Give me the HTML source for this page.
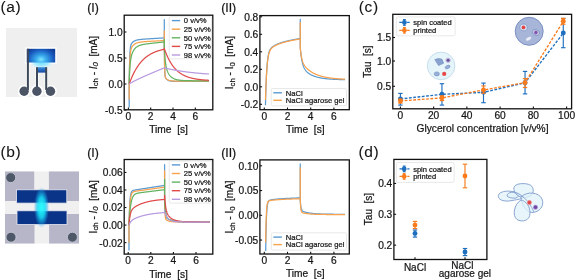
<!DOCTYPE html>
<html><head><meta charset="utf-8"><style>
html,body{margin:0;padding:0;background:#fff;}
svg{display:block;font-family:"Liberation Sans", sans-serif;will-change:transform;}
text{fill:#151515;stroke:#151515;stroke-width:0.22px;}
</style></head><body>
<svg width="575" height="280" viewBox="0 0 575 280">
<rect width="575" height="280" fill="#fff"/>
<text x="0.5" y="11.8" font-size="15.5" text-anchor="start" style="stroke-width:0.1px;letter-spacing:0.6px">(a)</text>
<text x="0.5" y="157.3" font-size="15.5" text-anchor="start" style="stroke-width:0.1px;letter-spacing:0.6px">(b)</text>
<rect x="6" y="28" width="71" height="69" fill="#efefef"/>
<defs>
    <radialGradient id="ga" cx="0.5" cy="0.78" r="0.62" gradientTransform="translate(0.5 0.78) scale(1 1.6) translate(-0.5 -0.78)">
      <stop offset="0" stop-color="#7fe6ff"/>
      <stop offset="0.3" stop-color="#38a8ec"/>
      <stop offset="0.7" stop-color="#1a5cc0"/>
      <stop offset="1" stop-color="#0e3a92"/>
    </radialGradient>
    <linearGradient id="gb" x1="0" y1="0" x2="0" y2="1">
      <stop offset="0" stop-color="#3a90e0"/>
      <stop offset="1" stop-color="#1746a0"/>
    </linearGradient>
    <radialGradient id="glow" cx="0.5" cy="0.5" r="0.5">
      <stop offset="0" stop-color="#70dcff"/>
      <stop offset="0.55" stop-color="#a8ecff"/>
      <stop offset="1" stop-color="#e0f6fc" stop-opacity="0"/>
    </radialGradient>
    </defs>
<g stroke="#fff" stroke-width="3" fill="#fff">
<rect x="26.8" y="48.8" width="28.4" height="13.7"/>
<line x1="27.9" y1="49" x2="27.9" y2="88"/><line x1="37" y1="67" x2="37" y2="88"/><line x1="46.2" y1="67" x2="46.2" y2="88"/>
<circle cx="24.1" cy="91.3" r="4.9"/><circle cx="36.9" cy="91.3" r="4.9"/><circle cx="50.5" cy="91.3" r="4.9"/>
</g>
<ellipse cx="41.5" cy="62.5" rx="12.5" ry="6.5" fill="url(#glow)"/>
<rect x="26.8" y="48.8" width="28.4" height="13.7" fill="url(#ga)"/>
<rect x="36.6" y="67.2" width="10" height="5.4" fill="url(#gb)"/>
<g stroke="#3d4858" stroke-width="2">
<line x1="27.9" y1="48.8" x2="27.9" y2="90"/><line x1="37" y1="67.2" x2="37" y2="90"/><line x1="46.2" y1="67.2" x2="46.2" y2="90"/>
</g>
<g fill="#4b5566"><circle cx="24.1" cy="91.3" r="4.7"/><circle cx="36.9" cy="91.3" r="4.7"/><circle cx="50.5" cy="91.3" r="4.7"/></g>
<rect x="5" y="171.5" width="74" height="72" fill="#f0f0f0"/>
<rect x="5" y="171.5" width="29.2" height="29.5" fill="#b6b6c8"/>
<rect x="48.9" y="171.5" width="30.1" height="29.5" fill="#b6b6c8"/>
<rect x="5" y="214" width="29.5" height="29.5" fill="#b6b6c8"/>
<rect x="49.1" y="214" width="29.9" height="29.5" fill="#b6b6c8"/>
<rect x="16.5" y="189.8" width="50.3" height="13.3" fill="#0a3488" stroke="#e8e8f0" stroke-width="0.8"/>
<rect x="17" y="210.8" width="50" height="13.7" fill="#0a3488" stroke="#e8e8f0" stroke-width="0.8"/>
<defs><radialGradient id="gc" cx="0.5" cy="0.5" r="0.5">
      <stop offset="0" stop-color="#28ffff" stop-opacity="1"/>
      <stop offset="0.5" stop-color="#18e0f8" stop-opacity="0.85"/>
      <stop offset="0.8" stop-color="#18b0ec" stop-opacity="0.4"/>
      <stop offset="1" stop-color="#1890e0" stop-opacity="0"/>
    </radialGradient></defs>
<ellipse cx="41.5" cy="207.5" rx="7.6" ry="20.5" fill="url(#gc)"/>
<circle cx="10.7" cy="177.6" r="5" fill="#4e5868" stroke="#d0d0dc" stroke-width="0.8"/>
<circle cx="11" cy="237.2" r="5" fill="#4e5868" stroke="#d0d0dc" stroke-width="0.8"/>
<circle cx="72.4" cy="237.2" r="5" fill="#4e5868" stroke="#d0d0dc" stroke-width="0.8"/>
<text x="87.2" y="12.2" font-size="12.3" text-anchor="start" >(I)</text>
<clipPath id="cI1"><rect x="124.2" y="15.2" width="88.6" height="94.6"/></clipPath>
<g clip-path="url(#cI1)" fill="none" stroke-width="1.25" stroke-linejoin="round">
<path d="M129.18,107.4 L129.18,84 L129.47,66.01 L129.77,56.35 L130.06,51.05 L130.35,48.03 L130.64,46.22 L130.94,45.06 L131.23,44.27 L131.52,43.68 L131.81,43.21 L132.11,42.82 L132.4,42.49 L132.69,42.2 L132.99,41.93 L133.28,41.7 L133.57,41.49 L133.86,41.3 L134.16,41.12 L134.45,40.97 L134.74,40.82 L135.03,40.69 L135.33,40.57 L135.62,40.46 L135.91,40.36 L136.21,40.27 L136.5,40.18 L136.79,40.1 L137.08,40.03 L137.38,39.96 L137.67,39.9 L137.96,39.84 L138.25,39.79 L138.55,39.74 L138.84,39.69 L139.13,39.65 L139.42,39.61 L139.72,39.57 L140.01,39.53 L140.3,39.5 L140.6,39.46 L140.89,39.43 L141.18,39.4 L141.47,39.37 L141.77,39.34 L142.06,39.32 L142.35,39.29 L142.64,39.26 L142.94,39.24 L143.23,39.22 L143.52,39.19 L143.81,39.17 L144.11,39.15 L144.4,39.13 L144.69,39.1 L144.99,39.08 L145.28,39.06 L145.57,39.04 L145.86,39.02 L146.16,39 L146.45,38.98 L146.74,38.96 L147.03,38.94 L147.33,38.93 L147.62,38.91 L147.91,38.89 L148.21,38.87 L148.5,38.85 L148.79,38.83 L149.08,38.81 L149.38,38.79 L149.67,38.78 L149.96,38.76 L150.25,38.74 L150.55,38.72 L150.84,38.7 L151.13,38.69 L151.42,38.67 L151.72,38.65 L152.01,38.63 L152.3,38.61 L152.6,38.6 L152.89,38.58 L153.18,38.56 L153.47,38.54 L153.77,38.52 L154.06,38.51 L154.35,38.49 L154.64,38.47 L154.94,38.45 L155.23,38.43 L155.52,38.42 L155.82,38.4 L156.11,38.38 L156.4,38.36 L156.69,38.35 L156.99,38.33 L157.28,38.31 L157.57,38.29 L157.86,38.27 L158.16,38.26 L158.45,38.24 L158.74,38.22 L159.03,38.2 L159.33,38.19 L159.62,38.17 L159.91,38.15 L160.21,38.13 L160.5,38.11 L160.79,38.1 L161.08,38.08 L161.38,38.06 L161.67,38.04 L161.96,38.03 L162.25,38.01 L162.55,37.99 L162.84,37.97 L163.13,37.95 L163.42,37.94 L163.72,37.92 L164.01,37.9 L164.3,37.88 L164.3,19.52 L164.3,42.4 L164.58,66.54 L164.86,73.87 L165.14,76.35 L165.42,77.4 L165.7,78 L165.98,78.44 L166.26,78.8 L166.54,79.11 L166.82,79.38 L167.1,79.62 L167.38,79.83 L167.66,80.01 L167.94,80.18 L168.22,80.32 L168.49,80.45 L168.77,80.56 L169.05,80.66 L169.33,80.75 L169.61,80.82 L169.89,80.89 L170.17,80.95 L170.45,81 L170.73,81.05 L171.01,81.09 L171.29,81.13 L171.57,81.16 L171.85,81.19 L172.13,81.21 L172.41,81.24 L172.69,81.25 L172.97,81.27 L173.25,81.29 L173.52,81.3 L173.8,81.31 L174.08,81.32 L174.36,81.33 L174.64,81.34 L174.92,81.35 L175.2,81.35 L175.48,81.36 L175.76,81.36 L176.04,81.37 L176.32,81.37 L176.6,81.37 L176.88,81.38 L177.16,81.38 L177.44,81.38 L177.72,81.38 L178,81.39 L178.28,81.39 L178.55,81.39 L178.83,81.39 L179.11,81.39 L179.39,81.39 L179.67,81.39 L179.95,81.39 L180.23,81.4 L180.51,81.4 L180.79,81.4 L181.07,81.4 L181.35,81.4 L181.63,81.4 L181.91,81.4 L182.19,81.4 L182.47,81.4 L182.75,81.4 L183.03,81.4 L183.31,81.4 L183.58,81.4 L183.86,81.4 L184.14,81.4 L184.42,81.4 L184.7,81.4 L184.98,81.4 L185.26,81.4 L185.54,81.4 L185.82,81.4 L186.1,81.4 L186.38,81.4 L186.66,81.4 L186.94,81.4 L187.22,81.4 L187.5,81.4 L187.78,81.4 L188.06,81.4 L188.34,81.4 L188.61,81.4 L188.89,81.4 L189.17,81.4 L189.45,81.4 L189.73,81.4 L190.01,81.4 L190.29,81.4 L190.57,81.4 L190.85,81.4 L191.13,81.4 L191.41,81.4 L191.69,81.4 L191.97,81.4 L192.25,81.4 L192.53,81.4 L192.81,81.4 L193.09,81.4 L193.37,81.4 L193.64,81.4 L193.92,81.4 L194.2,81.4 L194.48,81.4 L194.76,81.4 L195.04,81.4 L195.32,81.4 L195.6,81.4 L195.88,81.4 L196.16,81.4 L196.44,81.4 L196.72,81.4 L197,81.4 L197.28,81.4 L197.56,81.4 L197.84,81.4 L198.12,81.4 L198.4,81.4 L198.67,81.4 L198.95,81.4 L199.23,81.4 L199.51,81.4 L199.79,81.4 L200.07,81.4 L200.35,81.4 L200.63,81.4 L200.91,81.4 L201.19,81.4 L201.47,81.4 L201.75,81.4 L202.03,81.4 L202.31,81.4 L202.59,81.4 L202.87,81.4 L203.15,81.4 L203.43,81.4 L203.71,81.4 L203.98,81.4 L204.26,81.4 L204.54,81.4 L204.82,81.4 L205.1,81.4 L205.38,81.4 L205.66,81.4 L205.94,81.4 L206.22,81.4 L206.5,81.4 L206.78,81.4 L207.06,81.4 L207.34,81.4 L207.62,81.4 L207.9,81.4 L208.18,81.4 L208.46,81.4 L208.74,81.4 L209.01,81.4" stroke="#5b9ad2"/>
<path d="M129.18,99.6 L129.18,84 L129.47,70.3 L129.77,61.91 L130.06,56.68 L130.35,53.35 L130.64,51.17 L130.94,49.67 L131.23,48.6 L131.52,47.79 L131.81,47.16 L132.11,46.64 L132.4,46.2 L132.69,45.82 L132.99,45.49 L133.28,45.18 L133.57,44.91 L133.86,44.66 L134.16,44.43 L134.45,44.22 L134.74,44.02 L135.03,43.85 L135.33,43.68 L135.62,43.53 L135.91,43.39 L136.21,43.26 L136.5,43.14 L136.79,43.03 L137.08,42.92 L137.38,42.83 L137.67,42.74 L137.96,42.66 L138.25,42.58 L138.55,42.51 L138.84,42.44 L139.13,42.38 L139.42,42.32 L139.72,42.26 L140.01,42.21 L140.3,42.16 L140.6,42.12 L140.89,42.07 L141.18,42.03 L141.47,41.99 L141.77,41.95 L142.06,41.92 L142.35,41.89 L142.64,41.85 L142.94,41.82 L143.23,41.79 L143.52,41.77 L143.81,41.74 L144.11,41.71 L144.4,41.69 L144.69,41.66 L144.99,41.64 L145.28,41.62 L145.57,41.6 L145.86,41.58 L146.16,41.55 L146.45,41.53 L146.74,41.51 L147.03,41.49 L147.33,41.47 L147.62,41.46 L147.91,41.44 L148.21,41.42 L148.5,41.4 L148.79,41.38 L149.08,41.37 L149.38,41.35 L149.67,41.33 L149.96,41.31 L150.25,41.3 L150.55,41.28 L150.84,41.26 L151.13,41.25 L151.42,41.23 L151.72,41.22 L152.01,41.2 L152.3,41.18 L152.6,41.17 L152.89,41.15 L153.18,41.14 L153.47,41.12 L153.77,41.11 L154.06,41.09 L154.35,41.07 L154.64,41.06 L154.94,41.04 L155.23,41.03 L155.52,41.01 L155.82,41 L156.11,40.98 L156.4,40.97 L156.69,40.95 L156.99,40.94 L157.28,40.92 L157.57,40.91 L157.86,40.89 L158.16,40.88 L158.45,40.86 L158.74,40.84 L159.03,40.83 L159.33,40.81 L159.62,40.8 L159.91,40.78 L160.21,40.77 L160.5,40.75 L160.79,40.74 L161.08,40.72 L161.38,40.71 L161.67,40.69 L161.96,40.68 L162.25,40.66 L162.55,40.65 L162.84,40.63 L163.13,40.62 L163.42,40.6 L163.72,40.59 L164.01,40.57 L164.3,40.56 L164.3,30.96 L164.3,44.69 L164.58,65 L164.86,72.75 L165.14,75.85 L165.42,77.23 L165.7,77.94 L165.98,78.39 L166.26,78.72 L166.54,78.99 L166.82,79.22 L167.1,79.42 L167.38,79.6 L167.66,79.76 L167.94,79.91 L168.22,80.03 L168.49,80.15 L168.77,80.25 L169.05,80.34 L169.33,80.42 L169.61,80.49 L169.89,80.56 L170.17,80.61 L170.45,80.66 L170.73,80.71 L171.01,80.75 L171.29,80.79 L171.57,80.82 L171.85,80.85 L172.13,80.87 L172.41,80.9 L172.69,80.92 L172.97,80.94 L173.25,80.95 L173.52,80.97 L173.8,80.98 L174.08,80.99 L174.36,81 L174.64,81.01 L174.92,81.02 L175.2,81.03 L175.48,81.03 L175.76,81.04 L176.04,81.04 L176.32,81.05 L176.6,81.05 L176.88,81.06 L177.16,81.06 L177.44,81.06 L177.72,81.07 L178,81.07 L178.28,81.07 L178.55,81.07 L178.83,81.07 L179.11,81.08 L179.39,81.08 L179.67,81.08 L179.95,81.08 L180.23,81.08 L180.51,81.08 L180.79,81.08 L181.07,81.08 L181.35,81.08 L181.63,81.08 L181.91,81.08 L182.19,81.08 L182.47,81.08 L182.75,81.09 L183.03,81.09 L183.31,81.09 L183.58,81.09 L183.86,81.09 L184.14,81.09 L184.42,81.09 L184.7,81.09 L184.98,81.09 L185.26,81.09 L185.54,81.09 L185.82,81.09 L186.1,81.09 L186.38,81.09 L186.66,81.09 L186.94,81.09 L187.22,81.09 L187.5,81.09 L187.78,81.09 L188.06,81.09 L188.34,81.09 L188.61,81.09 L188.89,81.09 L189.17,81.09 L189.45,81.09 L189.73,81.09 L190.01,81.09 L190.29,81.09 L190.57,81.09 L190.85,81.09 L191.13,81.09 L191.41,81.09 L191.69,81.09 L191.97,81.09 L192.25,81.09 L192.53,81.09 L192.81,81.09 L193.09,81.09 L193.37,81.09 L193.64,81.09 L193.92,81.09 L194.2,81.09 L194.48,81.09 L194.76,81.09 L195.04,81.09 L195.32,81.09 L195.6,81.09 L195.88,81.09 L196.16,81.09 L196.44,81.09 L196.72,81.09 L197,81.09 L197.28,81.09 L197.56,81.09 L197.84,81.09 L198.12,81.09 L198.4,81.09 L198.67,81.09 L198.95,81.09 L199.23,81.09 L199.51,81.09 L199.79,81.09 L200.07,81.09 L200.35,81.09 L200.63,81.09 L200.91,81.09 L201.19,81.09 L201.47,81.09 L201.75,81.09 L202.03,81.09 L202.31,81.09 L202.59,81.09 L202.87,81.09 L203.15,81.09 L203.43,81.09 L203.71,81.09 L203.98,81.09 L204.26,81.09 L204.54,81.09 L204.82,81.09 L205.1,81.09 L205.38,81.09 L205.66,81.09 L205.94,81.09 L206.22,81.09 L206.5,81.09 L206.78,81.09 L207.06,81.09 L207.34,81.09 L207.62,81.09 L207.9,81.09 L208.18,81.09 L208.46,81.09 L208.74,81.09 L209.01,81.09" stroke="#f9a24c"/>
<path d="M129.18,84 L129.47,75.6 L129.77,69.73 L130.06,65.54 L130.35,62.45 L130.64,60.11 L130.94,58.29 L131.23,56.82 L131.52,55.6 L131.81,54.57 L132.11,53.67 L132.4,52.89 L132.69,52.19 L132.99,51.56 L133.28,50.99 L133.57,50.47 L133.86,50 L134.16,49.56 L134.45,49.16 L134.74,48.79 L135.03,48.45 L135.33,48.14 L135.62,47.85 L135.91,47.58 L136.21,47.33 L136.5,47.1 L136.79,46.89 L137.08,46.69 L137.38,46.51 L137.67,46.34 L137.96,46.18 L138.25,46.03 L138.55,45.89 L138.84,45.76 L139.13,45.63 L139.42,45.52 L139.72,45.41 L140.01,45.31 L140.3,45.21 L140.6,45.12 L140.89,45.04 L141.18,44.96 L141.47,44.88 L141.77,44.81 L142.06,44.74 L142.35,44.67 L142.64,44.61 L142.94,44.55 L143.23,44.49 L143.52,44.43 L143.81,44.38 L144.11,44.33 L144.4,44.27 L144.69,44.23 L144.99,44.18 L145.28,44.13 L145.57,44.09 L145.86,44.04 L146.16,44 L146.45,43.96 L146.74,43.92 L147.03,43.88 L147.33,43.84 L147.62,43.8 L147.91,43.76 L148.21,43.72 L148.5,43.69 L148.79,43.65 L149.08,43.61 L149.38,43.58 L149.67,43.54 L149.96,43.51 L150.25,43.47 L150.55,43.44 L150.84,43.4 L151.13,43.37 L151.42,43.34 L151.72,43.3 L152.01,43.27 L152.3,43.24 L152.6,43.2 L152.89,43.17 L153.18,43.14 L153.47,43.1 L153.77,43.07 L154.06,43.04 L154.35,43.01 L154.64,42.98 L154.94,42.94 L155.23,42.91 L155.52,42.88 L155.82,42.85 L156.11,42.81 L156.4,42.78 L156.69,42.75 L156.99,42.72 L157.28,42.69 L157.57,42.66 L157.86,42.62 L158.16,42.59 L158.45,42.56 L158.74,42.53 L159.03,42.5 L159.33,42.47 L159.62,42.43 L159.91,42.4 L160.21,42.37 L160.5,42.34 L160.79,42.31 L161.08,42.28 L161.38,42.24 L161.67,42.21 L161.96,42.18 L162.25,42.15 L162.55,42.12 L162.84,42.09 L163.13,42.06 L163.42,42.02 L163.72,41.99 L164.01,41.96 L164.3,41.93 L164.3,39.28 L164.3,46.98 L164.58,52.28 L164.86,56.38 L165.14,59.6 L165.42,62.16 L165.7,64.21 L165.98,65.9 L166.26,67.3 L166.54,68.48 L166.82,69.49 L167.1,70.37 L167.38,71.14 L167.66,71.83 L167.94,72.45 L168.22,73.01 L168.49,73.52 L168.77,73.99 L169.05,74.43 L169.33,74.83 L169.61,75.2 L169.89,75.55 L170.17,75.87 L170.45,76.17 L170.73,76.46 L171.01,76.72 L171.29,76.97 L171.57,77.2 L171.85,77.42 L172.13,77.62 L172.41,77.82 L172.69,78 L172.97,78.17 L173.25,78.32 L173.52,78.47 L173.8,78.61 L174.08,78.74 L174.36,78.87 L174.64,78.98 L174.92,79.09 L175.2,79.2 L175.48,79.29 L175.76,79.38 L176.04,79.47 L176.32,79.55 L176.6,79.62 L176.88,79.69 L177.16,79.76 L177.44,79.82 L177.72,79.88 L178,79.93 L178.28,79.98 L178.55,80.03 L178.83,80.08 L179.11,80.12 L179.39,80.16 L179.67,80.2 L179.95,80.23 L180.23,80.26 L180.51,80.3 L180.79,80.32 L181.07,80.35 L181.35,80.38 L181.63,80.4 L181.91,80.42 L182.19,80.45 L182.47,80.47 L182.75,80.48 L183.03,80.5 L183.31,80.52 L183.58,80.53 L183.86,80.55 L184.14,80.56 L184.42,80.58 L184.7,80.59 L184.98,80.6 L185.26,80.61 L185.54,80.62 L185.82,80.63 L186.1,80.64 L186.38,80.65 L186.66,80.65 L186.94,80.66 L187.22,80.67 L187.5,80.68 L187.78,80.68 L188.06,80.69 L188.34,80.69 L188.61,80.7 L188.89,80.7 L189.17,80.71 L189.45,80.71 L189.73,80.72 L190.01,80.72 L190.29,80.72 L190.57,80.73 L190.85,80.73 L191.13,80.73 L191.41,80.73 L191.69,80.74 L191.97,80.74 L192.25,80.74 L192.53,80.74 L192.81,80.75 L193.09,80.75 L193.37,80.75 L193.64,80.75 L193.92,80.75 L194.2,80.75 L194.48,80.76 L194.76,80.76 L195.04,80.76 L195.32,80.76 L195.6,80.76 L195.88,80.76 L196.16,80.76 L196.44,80.76 L196.72,80.76 L197,80.76 L197.28,80.76 L197.56,80.77 L197.84,80.77 L198.12,80.77 L198.4,80.77 L198.67,80.77 L198.95,80.77 L199.23,80.77 L199.51,80.77 L199.79,80.77 L200.07,80.77 L200.35,80.77 L200.63,80.77 L200.91,80.77 L201.19,80.77 L201.47,80.77 L201.75,80.77 L202.03,80.77 L202.31,80.77 L202.59,80.77 L202.87,80.77 L203.15,80.77 L203.43,80.77 L203.71,80.77 L203.98,80.77 L204.26,80.77 L204.54,80.77 L204.82,80.77 L205.1,80.77 L205.38,80.77 L205.66,80.77 L205.94,80.77 L206.22,80.77 L206.5,80.77 L206.78,80.77 L207.06,80.77 L207.34,80.77 L207.62,80.77 L207.9,80.77 L208.18,80.78 L208.46,80.78 L208.74,80.78 L209.01,80.78" stroke="#62b462"/>
<path d="M129.18,84 L129.47,83.19 L129.77,82.4 L130.06,81.62 L130.35,80.86 L130.64,80.12 L130.94,79.39 L131.23,78.68 L131.52,77.99 L131.81,77.31 L132.11,76.64 L132.4,75.99 L132.69,75.36 L132.99,74.73 L133.28,74.12 L133.57,73.53 L133.86,72.94 L134.16,72.37 L134.45,71.81 L134.74,71.27 L135.03,70.73 L135.33,70.21 L135.62,69.7 L135.91,69.2 L136.21,68.71 L136.5,68.23 L136.79,67.76 L137.08,67.3 L137.38,66.85 L137.67,66.41 L137.96,65.98 L138.25,65.56 L138.55,65.15 L138.84,64.75 L139.13,64.36 L139.42,63.97 L139.72,63.59 L140.01,63.23 L140.3,62.87 L140.6,62.51 L140.89,62.17 L141.18,61.83 L141.47,61.5 L141.77,61.18 L142.06,60.86 L142.35,60.55 L142.64,60.25 L142.94,59.95 L143.23,59.66 L143.52,59.38 L143.81,59.1 L144.11,58.83 L144.4,58.56 L144.69,58.3 L144.99,58.05 L145.28,57.8 L145.57,57.56 L145.86,57.32 L146.16,57.09 L146.45,56.86 L146.74,56.64 L147.03,56.42 L147.33,56.21 L147.62,56 L147.91,55.79 L148.21,55.59 L148.5,55.4 L148.79,55.21 L149.08,55.02 L149.38,54.84 L149.67,54.66 L149.96,54.48 L150.25,54.31 L150.55,54.14 L150.84,53.98 L151.13,53.82 L151.42,53.66 L151.72,53.51 L152.01,53.36 L152.3,53.21 L152.6,53.07 L152.89,52.93 L153.18,52.79 L153.47,52.65 L153.77,52.52 L154.06,52.39 L154.35,52.27 L154.64,52.14 L154.94,52.02 L155.23,51.9 L155.52,51.79 L155.82,51.67 L156.11,51.56 L156.4,51.46 L156.69,51.35 L156.99,51.25 L157.28,51.14 L157.57,51.05 L157.86,50.95 L158.16,50.85 L158.45,50.76 L158.74,50.67 L159.03,50.58 L159.33,50.49 L159.62,50.41 L159.91,50.33 L160.21,50.24 L160.5,50.16 L160.79,50.09 L161.08,50.01 L161.38,49.94 L161.67,49.86 L161.96,49.79 L162.25,49.72 L162.55,49.65 L162.84,49.59 L163.13,49.52 L163.42,49.46 L163.72,49.39 L164.01,49.33 L164.3,49.27 L164.3,48.12 L164.3,48.64 L164.58,49.44 L164.86,50.22 L165.14,50.98 L165.42,51.72 L165.7,52.44 L165.98,53.14 L166.26,53.83 L166.54,54.5 L166.82,55.15 L167.1,55.79 L167.38,56.41 L167.66,57.01 L167.94,57.6 L168.22,58.18 L168.49,58.74 L168.77,59.29 L169.05,59.82 L169.33,60.35 L169.61,60.85 L169.89,61.35 L170.17,61.83 L170.45,62.3 L170.73,62.76 L171.01,63.21 L171.29,63.65 L171.57,64.08 L171.85,64.49 L172.13,64.9 L172.41,65.29 L172.69,65.68 L172.97,66.06 L173.25,66.42 L173.52,66.78 L173.8,67.13 L174.08,67.47 L174.36,67.8 L174.64,68.13 L174.92,68.44 L175.2,68.75 L175.48,69.05 L175.76,69.34 L176.04,69.63 L176.32,69.91 L176.6,70.18 L176.88,70.44 L177.16,70.7 L177.44,70.95 L177.72,71.2 L178,71.44 L178.28,71.67 L178.55,71.9 L178.83,72.12 L179.11,72.34 L179.39,72.55 L179.67,72.76 L179.95,72.96 L180.23,73.15 L180.51,73.34 L180.79,73.53 L181.07,73.71 L181.35,73.89 L181.63,74.06 L181.91,74.23 L182.19,74.4 L182.47,74.56 L182.75,74.71 L183.03,74.87 L183.31,75.02 L183.58,75.16 L183.86,75.3 L184.14,75.44 L184.42,75.57 L184.7,75.71 L184.98,75.83 L185.26,75.96 L185.54,76.08 L185.82,76.2 L186.1,76.32 L186.38,76.43 L186.66,76.54 L186.94,76.65 L187.22,76.75 L187.5,76.85 L187.78,76.95 L188.06,77.05 L188.34,77.14 L188.61,77.24 L188.89,77.33 L189.17,77.42 L189.45,77.5 L189.73,77.58 L190.01,77.67 L190.29,77.75 L190.57,77.82 L190.85,77.9 L191.13,77.97 L191.41,78.04 L191.69,78.11 L191.97,78.18 L192.25,78.25 L192.53,78.32 L192.81,78.38 L193.09,78.44 L193.37,78.5 L193.64,78.56 L193.92,78.62 L194.2,78.67 L194.48,78.73 L194.76,78.78 L195.04,78.83 L195.32,78.88 L195.6,78.93 L195.88,78.98 L196.16,79.03 L196.44,79.07 L196.72,79.12 L197,79.16 L197.28,79.2 L197.56,79.25 L197.84,79.29 L198.12,79.33 L198.4,79.36 L198.67,79.4 L198.95,79.44 L199.23,79.47 L199.51,79.51 L199.79,79.54 L200.07,79.58 L200.35,79.61 L200.63,79.64 L200.91,79.67 L201.19,79.7 L201.47,79.73 L201.75,79.76 L202.03,79.79 L202.31,79.81 L202.59,79.84 L202.87,79.87 L203.15,79.89 L203.43,79.91 L203.71,79.94 L203.98,79.96 L204.26,79.98 L204.54,80.01 L204.82,80.03 L205.1,80.05 L205.38,80.07 L205.66,80.09 L205.94,80.11 L206.22,80.13 L206.5,80.15 L206.78,80.17 L207.06,80.18 L207.34,80.2 L207.62,80.22 L207.9,80.23 L208.18,80.25 L208.46,80.27 L208.74,80.28 L209.01,80.3" stroke="#e04a4a"/>
<path d="M129.18,84 L129.47,83.76 L129.77,83.56 L130.06,83.37 L130.35,83.19 L130.64,83.02 L130.94,82.85 L131.23,82.68 L131.52,82.51 L131.81,82.35 L132.11,82.19 L132.4,82.03 L132.69,81.87 L132.99,81.72 L133.28,81.57 L133.57,81.41 L133.86,81.26 L134.16,81.11 L134.45,80.96 L134.74,80.82 L135.03,80.67 L135.33,80.52 L135.62,80.38 L135.91,80.23 L136.21,80.09 L136.5,79.95 L136.79,79.8 L137.08,79.66 L137.38,79.52 L137.67,79.38 L137.96,79.24 L138.25,79.1 L138.55,78.96 L138.84,78.82 L139.13,78.69 L139.42,78.55 L139.72,78.41 L140.01,78.28 L140.3,78.14 L140.6,78 L140.89,77.87 L141.18,77.73 L141.47,77.6 L141.77,77.47 L142.06,77.33 L142.35,77.2 L142.64,77.07 L142.94,76.93 L143.23,76.8 L143.52,76.67 L143.81,76.54 L144.11,76.41 L144.4,76.28 L144.69,76.15 L144.99,76.02 L145.28,75.89 L145.57,75.76 L145.86,75.63 L146.16,75.5 L146.45,75.37 L146.74,75.24 L147.03,75.11 L147.33,74.98 L147.62,74.86 L147.91,74.73 L148.21,74.6 L148.5,74.47 L148.79,74.35 L149.08,74.22 L149.38,74.09 L149.67,73.97 L149.96,73.84 L150.25,73.72 L150.55,73.59 L150.84,73.47 L151.13,73.34 L151.42,73.22 L151.72,73.09 L152.01,72.97 L152.3,72.84 L152.6,72.72 L152.89,72.59 L153.18,72.47 L153.47,72.35 L153.77,72.22 L154.06,72.1 L154.35,71.98 L154.64,71.85 L154.94,71.73 L155.23,71.61 L155.52,71.49 L155.82,71.36 L156.11,71.24 L156.4,71.12 L156.69,71 L156.99,70.88 L157.28,70.75 L157.57,70.63 L157.86,70.51 L158.16,70.39 L158.45,70.27 L158.74,70.15 L159.03,70.03 L159.33,69.91 L159.62,69.79 L159.91,69.67 L160.21,69.55 L160.5,69.43 L160.79,69.31 L161.08,69.19 L161.38,69.07 L161.67,68.95 L161.96,68.83 L162.25,68.71 L162.55,68.59 L162.84,68.47 L163.13,68.35 L163.42,68.24 L163.72,68.12 L164.01,68 L164.3,67.88 L164.3,67.88 L164.3,67.88 L164.58,67.95 L164.86,68.02 L165.14,68.09 L165.42,68.15 L165.7,68.22 L165.98,68.29 L166.26,68.35 L166.54,68.42 L166.82,68.48 L167.1,68.55 L167.38,68.61 L167.66,68.67 L167.94,68.74 L168.22,68.8 L168.49,68.86 L168.77,68.92 L169.05,68.98 L169.33,69.04 L169.61,69.1 L169.89,69.16 L170.17,69.22 L170.45,69.28 L170.73,69.33 L171.01,69.39 L171.29,69.45 L171.57,69.5 L171.85,69.56 L172.13,69.62 L172.41,69.67 L172.69,69.72 L172.97,69.78 L173.25,69.83 L173.52,69.88 L173.8,69.94 L174.08,69.99 L174.36,70.04 L174.64,70.09 L174.92,70.14 L175.2,70.19 L175.48,70.24 L175.76,70.29 L176.04,70.34 L176.32,70.39 L176.6,70.44 L176.88,70.49 L177.16,70.53 L177.44,70.58 L177.72,70.63 L178,70.67 L178.28,70.72 L178.55,70.77 L178.83,70.81 L179.11,70.86 L179.39,70.9 L179.67,70.94 L179.95,70.99 L180.23,71.03 L180.51,71.08 L180.79,71.12 L181.07,71.16 L181.35,71.2 L181.63,71.24 L181.91,71.28 L182.19,71.33 L182.47,71.37 L182.75,71.41 L183.03,71.45 L183.31,71.49 L183.58,71.53 L183.86,71.56 L184.14,71.6 L184.42,71.64 L184.7,71.68 L184.98,71.72 L185.26,71.75 L185.54,71.79 L185.82,71.83 L186.1,71.86 L186.38,71.9 L186.66,71.94 L186.94,71.97 L187.22,72.01 L187.5,72.04 L187.78,72.08 L188.06,72.11 L188.34,72.14 L188.61,72.18 L188.89,72.21 L189.17,72.24 L189.45,72.28 L189.73,72.31 L190.01,72.34 L190.29,72.37 L190.57,72.41 L190.85,72.44 L191.13,72.47 L191.41,72.5 L191.69,72.53 L191.97,72.56 L192.25,72.59 L192.53,72.62 L192.81,72.65 L193.09,72.68 L193.37,72.71 L193.64,72.74 L193.92,72.77 L194.2,72.8 L194.48,72.82 L194.76,72.85 L195.04,72.88 L195.32,72.91 L195.6,72.94 L195.88,72.96 L196.16,72.99 L196.44,73.02 L196.72,73.04 L197,73.07 L197.28,73.1 L197.56,73.12 L197.84,73.15 L198.12,73.17 L198.4,73.2 L198.67,73.22 L198.95,73.25 L199.23,73.27 L199.51,73.3 L199.79,73.32 L200.07,73.34 L200.35,73.37 L200.63,73.39 L200.91,73.41 L201.19,73.44 L201.47,73.46 L201.75,73.48 L202.03,73.51 L202.31,73.53 L202.59,73.55 L202.87,73.57 L203.15,73.59 L203.43,73.62 L203.71,73.64 L203.98,73.66 L204.26,73.68 L204.54,73.7 L204.82,73.72 L205.1,73.74 L205.38,73.76 L205.66,73.78 L205.94,73.8 L206.22,73.82 L206.5,73.84 L206.78,73.86 L207.06,73.88 L207.34,73.9 L207.62,73.92 L207.9,73.94 L208.18,73.96 L208.46,73.98 L208.74,74 L209.01,74.01" stroke="#b99be0"/>
</g>
<rect x="124.2" y="15.2" width="88.6" height="94.6" fill="none" stroke="#111" stroke-width="1.3"/>
<line x1="124.2" y1="32" x2="126.4" y2="32" stroke="#111" stroke-width="1.1"/>
<text x="122.6" y="35.88" font-size="10.2" text-anchor="end" >1.0</text>
<line x1="124.2" y1="58" x2="126.4" y2="58" stroke="#111" stroke-width="1.1"/>
<text x="122.6" y="61.88" font-size="10.2" text-anchor="end" >0.5</text>
<line x1="124.2" y1="84" x2="126.4" y2="84" stroke="#111" stroke-width="1.1"/>
<text x="122.6" y="87.88" font-size="10.2" text-anchor="end" >0.0</text>
<line x1="124.2" y1="110" x2="126.4" y2="110" stroke="#111" stroke-width="1.1"/>
<text x="122.6" y="113.88" font-size="10.2" text-anchor="end" >-0.5</text>
<line x1="128.4" y1="109.8" x2="128.4" y2="107.6" stroke="#111" stroke-width="1.1"/>
<text x="128.4" y="119.8" font-size="10.2" text-anchor="middle" >0</text>
<line x1="150.7" y1="109.8" x2="150.7" y2="107.6" stroke="#111" stroke-width="1.1"/>
<text x="150.7" y="119.8" font-size="10.2" text-anchor="middle" >2</text>
<line x1="173" y1="109.8" x2="173" y2="107.6" stroke="#111" stroke-width="1.1"/>
<text x="173" y="119.8" font-size="10.2" text-anchor="middle" >4</text>
<line x1="195.3" y1="109.8" x2="195.3" y2="107.6" stroke="#111" stroke-width="1.1"/>
<text x="195.3" y="119.8" font-size="10.2" text-anchor="middle" >6</text>
<text x="168.6" y="133.2" font-size="10.2" text-anchor="middle" >Time&#160;&#160;[s]</text>
<text transform="translate(96.8,62.5) rotate(-90)" font-size="10.0" text-anchor="middle">I<tspan font-size="7.8" dy="1.3">ch</tspan><tspan dy="-1.3"> - </tspan><tspan font-style="italic">I</tspan><tspan font-size="7.8" dy="1.3" font-style="italic">0</tspan><tspan dy="-1.3">&#160; [mA]</tspan></text>
<rect x="169.2" y="16.7" width="42.4" height="42.1" rx="1.5" fill="#fff" fill-opacity="0.9" stroke="#e2e2e2" stroke-width="0.8"/>
<line x1="171.8" y1="20.6" x2="180.2" y2="20.6" stroke="#5b9ad2" stroke-width="1.4"/>
<text x="183.8" y="23.34" font-size="7.6" text-anchor="start" >0 v/v%</text>
<line x1="171.8" y1="29.2" x2="180.2" y2="29.2" stroke="#f9a24c" stroke-width="1.4"/>
<text x="183.8" y="31.94" font-size="7.6" text-anchor="start" >25 v/v%</text>
<line x1="171.8" y1="37.8" x2="180.2" y2="37.8" stroke="#62b462" stroke-width="1.4"/>
<text x="183.8" y="40.54" font-size="7.6" text-anchor="start" >50 v/v%</text>
<line x1="171.8" y1="46.4" x2="180.2" y2="46.4" stroke="#e04a4a" stroke-width="1.4"/>
<text x="183.8" y="49.14" font-size="7.6" text-anchor="start" >75 v/v%</text>
<line x1="171.8" y1="55" x2="180.2" y2="55" stroke="#b99be0" stroke-width="1.4"/>
<text x="183.8" y="57.74" font-size="7.6" text-anchor="start" >98 v/v%</text>
<text x="87.2" y="156.5" font-size="12.3" text-anchor="start" >(I)</text>
<clipPath id="cI2"><rect x="124.2" y="159.5" width="88.6" height="94.6"/></clipPath>
<g clip-path="url(#cI2)" fill="none" stroke-width="1.25" stroke-linejoin="round">
<path d="M128.99,250.56 L128.99,225.1 L129.29,214.39 L129.58,207.01 L129.88,201.92 L130.18,198.4 L130.47,195.96 L130.77,194.27 L131.07,193.09 L131.36,192.26 L131.66,191.68 L131.96,191.26 L132.25,190.96 L132.55,190.74 L132.85,190.58 L133.14,190.45 L133.44,190.35 L133.74,190.26 L134.03,190.19 L134.33,190.12 L134.63,190.06 L134.92,190.01 L135.22,189.96 L135.52,189.91 L135.81,189.86 L136.11,189.81 L136.41,189.76 L136.7,189.71 L137,189.67 L137.3,189.62 L137.59,189.57 L137.89,189.53 L138.19,189.48 L138.48,189.44 L138.78,189.39 L139.08,189.34 L139.37,189.3 L139.67,189.25 L139.97,189.21 L140.26,189.16 L140.56,189.11 L140.86,189.07 L141.15,189.02 L141.45,188.97 L141.75,188.93 L142.04,188.88 L142.34,188.84 L142.64,188.79 L142.93,188.74 L143.23,188.7 L143.53,188.65 L143.82,188.61 L144.12,188.56 L144.42,188.51 L144.71,188.47 L145.01,188.42 L145.31,188.38 L145.6,188.33 L145.9,188.28 L146.2,188.24 L146.49,188.19 L146.79,188.14 L147.09,188.1 L147.38,188.05 L147.68,188.01 L147.97,187.96 L148.27,187.91 L148.57,187.87 L148.86,187.82 L149.16,187.78 L149.46,187.73 L149.75,187.68 L150.05,187.64 L150.35,187.59 L150.64,187.55 L150.94,187.5 L151.24,187.45 L151.53,187.41 L151.83,187.36 L152.13,187.32 L152.42,187.27 L152.72,187.22 L153.02,187.18 L153.31,187.13 L153.61,187.08 L153.91,187.04 L154.2,186.99 L154.5,186.95 L154.8,186.9 L155.09,186.85 L155.39,186.81 L155.69,186.76 L155.98,186.72 L156.28,186.67 L156.58,186.62 L156.87,186.58 L157.17,186.53 L157.47,186.49 L157.76,186.44 L158.06,186.39 L158.36,186.35 L158.65,186.3 L158.95,186.26 L159.25,186.21 L159.54,186.16 L159.84,186.12 L160.14,186.07 L160.43,186.02 L160.73,185.98 L161.03,185.93 L161.32,185.89 L161.62,185.84 L161.92,185.79 L162.21,185.75 L162.51,185.7 L162.81,185.66 L163.1,185.61 L163.4,185.56 L163.7,185.52 L163.99,185.47 L164.29,185.43 L164.59,185.38 L164.59,164.69 L164.59,199.2 L164.87,205.45 L165.15,209.65 L165.44,212.48 L165.72,214.41 L166,215.75 L166.29,216.69 L166.57,217.37 L166.85,217.88 L167.13,218.26 L167.42,218.57 L167.7,218.81 L167.98,219.02 L168.27,219.2 L168.55,219.36 L168.83,219.51 L169.12,219.64 L169.4,219.77 L169.68,219.88 L169.97,219.99 L170.25,220.09 L170.53,220.19 L170.82,220.28 L171.1,220.36 L171.38,220.44 L171.67,220.52 L171.95,220.6 L172.23,220.67 L172.52,220.73 L172.8,220.8 L173.08,220.86 L173.37,220.91 L173.65,220.97 L173.93,221.02 L174.22,221.07 L174.5,221.12 L174.78,221.16 L175.06,221.2 L175.35,221.24 L175.63,221.28 L175.91,221.32 L176.2,221.35 L176.48,221.39 L176.76,221.42 L177.05,221.45 L177.33,221.47 L177.61,221.5 L177.9,221.53 L178.18,221.55 L178.46,221.58 L178.75,221.6 L179.03,221.62 L179.31,221.64 L179.6,221.66 L179.88,221.68 L180.16,221.69 L180.45,221.71 L180.73,221.72 L181.01,221.74 L181.3,221.75 L181.58,221.77 L181.86,221.78 L182.14,221.79 L182.43,221.8 L182.71,221.81 L182.99,221.82 L183.28,221.83 L183.56,221.84 L183.84,221.85 L184.13,221.86 L184.41,221.87 L184.69,221.88 L184.98,221.88 L185.26,221.89 L185.54,221.9 L185.83,221.9 L186.11,221.91 L186.39,221.92 L186.68,221.92 L186.96,221.93 L187.24,221.93 L187.53,221.94 L187.81,221.94 L188.09,221.94 L188.38,221.95 L188.66,221.95 L188.94,221.96 L189.22,221.96 L189.51,221.96 L189.79,221.97 L190.07,221.97 L190.36,221.97 L190.64,221.97 L190.92,221.98 L191.21,221.98 L191.49,221.98 L191.77,221.98 L192.06,221.99 L192.34,221.99 L192.62,221.99 L192.91,221.99 L193.19,221.99 L193.47,222 L193.76,222 L194.04,222 L194.32,222 L194.61,222 L194.89,222 L195.17,222 L195.46,222 L195.74,222.01 L196.02,222.01 L196.31,222.01 L196.59,222.01 L196.87,222.01 L197.15,222.01 L197.44,222.01 L197.72,222.01 L198,222.01 L198.29,222.01 L198.57,222.01 L198.85,222.01 L199.14,222.02 L199.42,222.02 L199.7,222.02 L199.99,222.02 L200.27,222.02 L200.55,222.02 L200.84,222.02 L201.12,222.02 L201.4,222.02 L201.69,222.02 L201.97,222.02 L202.25,222.02 L202.54,222.02 L202.82,222.02 L203.1,222.02 L203.39,222.02 L203.67,222.02 L203.95,222.02 L204.23,222.02 L204.52,222.02 L204.8,222.02 L205.08,222.02 L205.37,222.02 L205.65,222.02 L205.93,222.02 L206.22,222.02 L206.5,222.02 L206.78,222.02 L207.07,222.02 L207.35,222.02 L207.63,222.02 L207.92,222.02 L208.2,222.02 L208.48,222.02 L208.77,222.02 L209.05,222.02 L209.33,222.03 L209.62,222.03 L209.9,222.03" stroke="#5b9ad2"/>
<path d="M128.99,242.66 L128.99,225.1 L129.29,216.34 L129.58,209.88 L129.88,205.12 L130.18,201.61 L130.47,199.02 L130.77,197.11 L131.07,195.69 L131.36,194.63 L131.66,193.85 L131.96,193.26 L132.25,192.81 L132.55,192.48 L132.85,192.22 L133.14,192.02 L133.44,191.86 L133.74,191.73 L134.03,191.62 L134.33,191.54 L134.63,191.46 L134.92,191.39 L135.22,191.33 L135.52,191.28 L135.81,191.23 L136.11,191.18 L136.41,191.13 L136.7,191.08 L137,191.04 L137.3,191 L137.59,190.95 L137.89,190.91 L138.19,190.87 L138.48,190.83 L138.78,190.78 L139.08,190.74 L139.37,190.7 L139.67,190.66 L139.97,190.62 L140.26,190.58 L140.56,190.53 L140.86,190.49 L141.15,190.45 L141.45,190.41 L141.75,190.37 L142.04,190.33 L142.34,190.29 L142.64,190.24 L142.93,190.2 L143.23,190.16 L143.53,190.12 L143.82,190.08 L144.12,190.04 L144.42,189.99 L144.71,189.95 L145.01,189.91 L145.31,189.87 L145.6,189.83 L145.9,189.79 L146.2,189.75 L146.49,189.7 L146.79,189.66 L147.09,189.62 L147.38,189.58 L147.68,189.54 L147.97,189.5 L148.27,189.46 L148.57,189.41 L148.86,189.37 L149.16,189.33 L149.46,189.29 L149.75,189.25 L150.05,189.21 L150.35,189.17 L150.64,189.12 L150.94,189.08 L151.24,189.04 L151.53,189 L151.83,188.96 L152.13,188.92 L152.42,188.87 L152.72,188.83 L153.02,188.79 L153.31,188.75 L153.61,188.71 L153.91,188.67 L154.2,188.63 L154.5,188.58 L154.8,188.54 L155.09,188.5 L155.39,188.46 L155.69,188.42 L155.98,188.38 L156.28,188.34 L156.58,188.29 L156.87,188.25 L157.17,188.21 L157.47,188.17 L157.76,188.13 L158.06,188.09 L158.36,188.05 L158.65,188 L158.95,187.96 L159.25,187.92 L159.54,187.88 L159.84,187.84 L160.14,187.8 L160.43,187.75 L160.73,187.71 L161.03,187.67 L161.32,187.63 L161.62,187.59 L161.92,187.55 L162.21,187.51 L162.51,187.46 L162.81,187.42 L163.1,187.38 L163.4,187.34 L163.7,187.3 L163.99,187.26 L164.29,187.22 L164.59,187.17 L164.59,170.66 L164.59,200.95 L164.87,211.18 L165.15,215.75 L165.44,217.86 L165.72,218.89 L166,219.44 L166.29,219.78 L166.57,220.02 L166.85,220.2 L167.13,220.36 L167.42,220.5 L167.7,220.62 L167.98,220.74 L168.27,220.84 L168.55,220.94 L168.83,221.02 L169.12,221.1 L169.4,221.18 L169.68,221.25 L169.97,221.31 L170.25,221.37 L170.53,221.42 L170.82,221.47 L171.1,221.51 L171.38,221.55 L171.67,221.59 L171.95,221.63 L172.23,221.66 L172.52,221.69 L172.8,221.72 L173.08,221.74 L173.37,221.76 L173.65,221.78 L173.93,221.8 L174.22,221.82 L174.5,221.84 L174.78,221.85 L175.06,221.87 L175.35,221.88 L175.63,221.89 L175.91,221.9 L176.2,221.91 L176.48,221.92 L176.76,221.93 L177.05,221.94 L177.33,221.95 L177.61,221.95 L177.9,221.96 L178.18,221.96 L178.46,221.97 L178.75,221.97 L179.03,221.98 L179.31,221.98 L179.6,221.99 L179.88,221.99 L180.16,221.99 L180.45,221.99 L180.73,222 L181.01,222 L181.3,222 L181.58,222 L181.86,222.01 L182.14,222.01 L182.43,222.01 L182.71,222.01 L182.99,222.01 L183.28,222.01 L183.56,222.01 L183.84,222.02 L184.13,222.02 L184.41,222.02 L184.69,222.02 L184.98,222.02 L185.26,222.02 L185.54,222.02 L185.83,222.02 L186.11,222.02 L186.39,222.02 L186.68,222.02 L186.96,222.02 L187.24,222.02 L187.53,222.02 L187.81,222.02 L188.09,222.02 L188.38,222.02 L188.66,222.02 L188.94,222.02 L189.22,222.02 L189.51,222.02 L189.79,222.02 L190.07,222.03 L190.36,222.03 L190.64,222.03 L190.92,222.03 L191.21,222.03 L191.49,222.03 L191.77,222.03 L192.06,222.03 L192.34,222.03 L192.62,222.03 L192.91,222.03 L193.19,222.03 L193.47,222.03 L193.76,222.03 L194.04,222.03 L194.32,222.03 L194.61,222.03 L194.89,222.03 L195.17,222.03 L195.46,222.03 L195.74,222.03 L196.02,222.03 L196.31,222.03 L196.59,222.03 L196.87,222.03 L197.15,222.03 L197.44,222.03 L197.72,222.03 L198,222.03 L198.29,222.03 L198.57,222.03 L198.85,222.03 L199.14,222.03 L199.42,222.03 L199.7,222.03 L199.99,222.03 L200.27,222.03 L200.55,222.03 L200.84,222.03 L201.12,222.03 L201.4,222.03 L201.69,222.03 L201.97,222.03 L202.25,222.03 L202.54,222.03 L202.82,222.03 L203.1,222.03 L203.39,222.03 L203.67,222.03 L203.95,222.03 L204.23,222.03 L204.52,222.03 L204.8,222.03 L205.08,222.03 L205.37,222.03 L205.65,222.03 L205.93,222.03 L206.22,222.03 L206.5,222.03 L206.78,222.03 L207.07,222.03 L207.35,222.03 L207.63,222.03 L207.92,222.03 L208.2,222.03 L208.48,222.03 L208.77,222.03 L209.05,222.03 L209.33,222.03 L209.62,222.03 L209.9,222.03" stroke="#f9a24c"/>
<path d="M128.99,225.1 L129.29,220.12 L129.58,215.92 L129.88,212.39 L130.18,209.42 L130.47,206.91 L130.77,204.8 L131.07,203.02 L131.36,201.52 L131.66,200.25 L131.96,199.18 L132.25,198.27 L132.55,197.5 L132.85,196.85 L133.14,196.3 L133.44,195.83 L133.74,195.43 L134.03,195.08 L134.33,194.79 L134.63,194.54 L134.92,194.32 L135.22,194.13 L135.52,193.96 L135.81,193.82 L136.11,193.69 L136.41,193.58 L136.7,193.48 L137,193.38 L137.3,193.3 L137.59,193.23 L137.89,193.16 L138.19,193.09 L138.48,193.04 L138.78,192.98 L139.08,192.93 L139.37,192.88 L139.67,192.83 L139.97,192.78 L140.26,192.74 L140.56,192.69 L140.86,192.65 L141.15,192.61 L141.45,192.57 L141.75,192.53 L142.04,192.49 L142.34,192.45 L142.64,192.41 L142.93,192.37 L143.23,192.33 L143.53,192.3 L143.82,192.26 L144.12,192.22 L144.42,192.18 L144.71,192.14 L145.01,192.11 L145.31,192.07 L145.6,192.03 L145.9,192 L146.2,191.96 L146.49,191.92 L146.79,191.88 L147.09,191.85 L147.38,191.81 L147.68,191.77 L147.97,191.74 L148.27,191.7 L148.57,191.66 L148.86,191.63 L149.16,191.59 L149.46,191.55 L149.75,191.51 L150.05,191.48 L150.35,191.44 L150.64,191.4 L150.94,191.37 L151.24,191.33 L151.53,191.29 L151.83,191.26 L152.13,191.22 L152.42,191.18 L152.72,191.15 L153.02,191.11 L153.31,191.07 L153.61,191.04 L153.91,191 L154.2,190.96 L154.5,190.92 L154.8,190.89 L155.09,190.85 L155.39,190.81 L155.69,190.78 L155.98,190.74 L156.28,190.7 L156.58,190.67 L156.87,190.63 L157.17,190.59 L157.47,190.56 L157.76,190.52 L158.06,190.48 L158.36,190.45 L158.65,190.41 L158.95,190.37 L159.25,190.33 L159.54,190.3 L159.84,190.26 L160.14,190.22 L160.43,190.19 L160.73,190.15 L161.03,190.11 L161.32,190.08 L161.62,190.04 L161.92,190 L162.21,189.97 L162.51,189.93 L162.81,189.89 L163.1,189.86 L163.4,189.82 L163.7,189.78 L163.99,189.74 L164.29,189.71 L164.59,189.67 L164.59,179.44 L164.59,202.71 L164.87,206.55 L165.15,209.43 L165.44,211.59 L165.72,213.24 L166,214.49 L166.29,215.47 L166.57,216.23 L166.85,216.84 L167.13,217.33 L167.42,217.73 L167.7,218.07 L167.98,218.35 L168.27,218.6 L168.55,218.82 L168.83,219.01 L169.12,219.18 L169.4,219.34 L169.68,219.49 L169.97,219.62 L170.25,219.75 L170.53,219.86 L170.82,219.97 L171.1,220.08 L171.38,220.17 L171.67,220.27 L171.95,220.35 L172.23,220.44 L172.52,220.51 L172.8,220.59 L173.08,220.66 L173.37,220.73 L173.65,220.79 L173.93,220.85 L174.22,220.91 L174.5,220.96 L174.78,221.02 L175.06,221.06 L175.35,221.11 L175.63,221.16 L175.91,221.2 L176.2,221.24 L176.48,221.28 L176.76,221.31 L177.05,221.35 L177.33,221.38 L177.61,221.41 L177.9,221.44 L178.18,221.47 L178.46,221.5 L178.75,221.53 L179.03,221.55 L179.31,221.57 L179.6,221.6 L179.88,221.62 L180.16,221.64 L180.45,221.66 L180.73,221.67 L181.01,221.69 L181.3,221.71 L181.58,221.72 L181.86,221.74 L182.14,221.75 L182.43,221.77 L182.71,221.78 L182.99,221.79 L183.28,221.8 L183.56,221.81 L183.84,221.82 L184.13,221.83 L184.41,221.84 L184.69,221.85 L184.98,221.86 L185.26,221.87 L185.54,221.88 L185.83,221.88 L186.11,221.89 L186.39,221.9 L186.68,221.9 L186.96,221.91 L187.24,221.92 L187.53,221.92 L187.81,221.93 L188.09,221.93 L188.38,221.94 L188.66,221.94 L188.94,221.94 L189.22,221.95 L189.51,221.95 L189.79,221.96 L190.07,221.96 L190.36,221.96 L190.64,221.97 L190.92,221.97 L191.21,221.97 L191.49,221.97 L191.77,221.98 L192.06,221.98 L192.34,221.98 L192.62,221.98 L192.91,221.99 L193.19,221.99 L193.47,221.99 L193.76,221.99 L194.04,221.99 L194.32,222 L194.61,222 L194.89,222 L195.17,222 L195.46,222 L195.74,222 L196.02,222 L196.31,222 L196.59,222.01 L196.87,222.01 L197.15,222.01 L197.44,222.01 L197.72,222.01 L198,222.01 L198.29,222.01 L198.57,222.01 L198.85,222.01 L199.14,222.01 L199.42,222.01 L199.7,222.01 L199.99,222.02 L200.27,222.02 L200.55,222.02 L200.84,222.02 L201.12,222.02 L201.4,222.02 L201.69,222.02 L201.97,222.02 L202.25,222.02 L202.54,222.02 L202.82,222.02 L203.1,222.02 L203.39,222.02 L203.67,222.02 L203.95,222.02 L204.23,222.02 L204.52,222.02 L204.8,222.02 L205.08,222.02 L205.37,222.02 L205.65,222.02 L205.93,222.02 L206.22,222.02 L206.5,222.02 L206.78,222.02 L207.07,222.02 L207.35,222.02 L207.63,222.02 L207.92,222.02 L208.2,222.02 L208.48,222.02 L208.77,222.02 L209.05,222.02 L209.33,222.02 L209.62,222.02 L209.9,222.02" stroke="#62b462"/>
<path d="M128.99,225.1 L129.29,221.68 L129.58,218.99 L129.88,216.86 L130.18,215.16 L130.47,213.81 L130.77,212.71 L131.07,211.81 L131.36,211.07 L131.66,210.45 L131.96,209.92 L132.25,209.47 L132.55,209.07 L132.85,208.72 L133.14,208.41 L133.44,208.12 L133.74,207.86 L134.03,207.61 L134.33,207.38 L134.63,207.16 L134.92,206.96 L135.22,206.76 L135.52,206.57 L135.81,206.39 L136.11,206.21 L136.41,206.04 L136.7,205.87 L137,205.71 L137.3,205.55 L137.59,205.39 L137.89,205.24 L138.19,205.1 L138.48,204.95 L138.78,204.81 L139.08,204.68 L139.37,204.54 L139.67,204.41 L139.97,204.28 L140.26,204.16 L140.56,204.03 L140.86,203.91 L141.15,203.8 L141.45,203.68 L141.75,203.57 L142.04,203.46 L142.34,203.35 L142.64,203.25 L142.93,203.14 L143.23,203.04 L143.53,202.95 L143.82,202.85 L144.12,202.76 L144.42,202.66 L144.71,202.57 L145.01,202.48 L145.31,202.4 L145.6,202.31 L145.9,202.23 L146.2,202.15 L146.49,202.07 L146.79,201.99 L147.09,201.92 L147.38,201.84 L147.68,201.77 L147.97,201.7 L148.27,201.63 L148.57,201.56 L148.86,201.5 L149.16,201.43 L149.46,201.37 L149.75,201.31 L150.05,201.25 L150.35,201.19 L150.64,201.13 L150.94,201.07 L151.24,201.02 L151.53,200.96 L151.83,200.91 L152.13,200.86 L152.42,200.8 L152.72,200.75 L153.02,200.71 L153.31,200.66 L153.61,200.61 L153.91,200.57 L154.2,200.52 L154.5,200.48 L154.8,200.43 L155.09,200.39 L155.39,200.35 L155.69,200.31 L155.98,200.27 L156.28,200.23 L156.58,200.2 L156.87,200.16 L157.17,200.12 L157.47,200.09 L157.76,200.05 L158.06,200.02 L158.36,199.99 L158.65,199.95 L158.95,199.92 L159.25,199.89 L159.54,199.86 L159.84,199.83 L160.14,199.8 L160.43,199.78 L160.73,199.75 L161.03,199.72 L161.32,199.69 L161.62,199.67 L161.92,199.64 L162.21,199.62 L162.51,199.59 L162.81,199.57 L163.1,199.55 L163.4,199.52 L163.7,199.5 L163.99,199.48 L164.29,199.46 L164.59,199.44 L164.59,195.25 L164.59,195.25 L164.87,199.26 L165.15,202.45 L165.44,205.01 L165.72,207.07 L166,208.76 L166.29,210.14 L166.57,211.28 L166.85,212.24 L167.13,213.05 L167.42,213.75 L167.7,214.35 L167.98,214.88 L168.27,215.35 L168.55,215.77 L168.83,216.14 L169.12,216.48 L169.4,216.8 L169.68,217.08 L169.97,217.35 L170.25,217.6 L170.53,217.83 L170.82,218.04 L171.1,218.25 L171.38,218.44 L171.67,218.62 L171.95,218.79 L172.23,218.95 L172.52,219.1 L172.8,219.25 L173.08,219.39 L173.37,219.52 L173.65,219.64 L173.93,219.76 L174.22,219.87 L174.5,219.97 L174.78,220.08 L175.06,220.17 L175.35,220.26 L175.63,220.35 L175.91,220.43 L176.2,220.51 L176.48,220.58 L176.76,220.65 L177.05,220.72 L177.33,220.78 L177.61,220.85 L177.9,220.9 L178.18,220.96 L178.46,221.01 L178.75,221.06 L179.03,221.11 L179.31,221.15 L179.6,221.2 L179.88,221.24 L180.16,221.27 L180.45,221.31 L180.73,221.35 L181.01,221.38 L181.3,221.41 L181.58,221.44 L181.86,221.47 L182.14,221.5 L182.43,221.52 L182.71,221.55 L182.99,221.57 L183.28,221.59 L183.56,221.61 L183.84,221.63 L184.13,221.65 L184.41,221.67 L184.69,221.69 L184.98,221.71 L185.26,221.72 L185.54,221.74 L185.83,221.75 L186.11,221.76 L186.39,221.78 L186.68,221.79 L186.96,221.8 L187.24,221.81 L187.53,221.82 L187.81,221.83 L188.09,221.84 L188.38,221.85 L188.66,221.86 L188.94,221.87 L189.22,221.88 L189.51,221.88 L189.79,221.89 L190.07,221.9 L190.36,221.9 L190.64,221.91 L190.92,221.91 L191.21,221.92 L191.49,221.93 L191.77,221.93 L192.06,221.94 L192.34,221.94 L192.62,221.94 L192.91,221.95 L193.19,221.95 L193.47,221.96 L193.76,221.96 L194.04,221.96 L194.32,221.97 L194.61,221.97 L194.89,221.97 L195.17,221.97 L195.46,221.98 L195.74,221.98 L196.02,221.98 L196.31,221.98 L196.59,221.99 L196.87,221.99 L197.15,221.99 L197.44,221.99 L197.72,221.99 L198,222 L198.29,222 L198.57,222 L198.85,222 L199.14,222 L199.42,222 L199.7,222 L199.99,222 L200.27,222.01 L200.55,222.01 L200.84,222.01 L201.12,222.01 L201.4,222.01 L201.69,222.01 L201.97,222.01 L202.25,222.01 L202.54,222.01 L202.82,222.01 L203.1,222.01 L203.39,222.01 L203.67,222.02 L203.95,222.02 L204.23,222.02 L204.52,222.02 L204.8,222.02 L205.08,222.02 L205.37,222.02 L205.65,222.02 L205.93,222.02 L206.22,222.02 L206.5,222.02 L206.78,222.02 L207.07,222.02 L207.35,222.02 L207.63,222.02 L207.92,222.02 L208.2,222.02 L208.48,222.02 L208.77,222.02 L209.05,222.02 L209.33,222.02 L209.62,222.02 L209.9,222.02" stroke="#e04a4a"/>
<path d="M128.99,225.1 L129.29,224.35 L129.58,223.69 L129.88,223.11 L130.18,222.6 L130.47,222.15 L130.77,221.74 L131.07,221.38 L131.36,221.05 L131.66,220.75 L131.96,220.47 L132.25,220.22 L132.55,219.98 L132.85,219.76 L133.14,219.56 L133.44,219.37 L133.74,219.18 L134.03,219.01 L134.33,218.85 L134.63,218.69 L134.92,218.54 L135.22,218.39 L135.52,218.25 L135.81,218.11 L136.11,217.98 L136.41,217.85 L136.7,217.73 L137,217.61 L137.3,217.49 L137.59,217.37 L137.89,217.26 L138.19,217.15 L138.48,217.05 L138.78,216.94 L139.08,216.84 L139.37,216.74 L139.67,216.64 L139.97,216.54 L140.26,216.45 L140.56,216.35 L140.86,216.26 L141.15,216.17 L141.45,216.09 L141.75,216 L142.04,215.92 L142.34,215.84 L142.64,215.75 L142.93,215.67 L143.23,215.6 L143.53,215.52 L143.82,215.45 L144.12,215.37 L144.42,215.3 L144.71,215.23 L145.01,215.16 L145.31,215.09 L145.6,215.02 L145.9,214.96 L146.2,214.89 L146.49,214.83 L146.79,214.77 L147.09,214.71 L147.38,214.65 L147.68,214.59 L147.97,214.53 L148.27,214.48 L148.57,214.42 L148.86,214.37 L149.16,214.31 L149.46,214.26 L149.75,214.21 L150.05,214.16 L150.35,214.11 L150.64,214.06 L150.94,214.01 L151.24,213.97 L151.53,213.92 L151.83,213.87 L152.13,213.83 L152.42,213.79 L152.72,213.74 L153.02,213.7 L153.31,213.66 L153.61,213.62 L153.91,213.58 L154.2,213.54 L154.5,213.5 L154.8,213.47 L155.09,213.43 L155.39,213.39 L155.69,213.36 L155.98,213.32 L156.28,213.29 L156.58,213.26 L156.87,213.22 L157.17,213.19 L157.47,213.16 L157.76,213.13 L158.06,213.1 L158.36,213.07 L158.65,213.04 L158.95,213.01 L159.25,212.98 L159.54,212.95 L159.84,212.93 L160.14,212.9 L160.43,212.87 L160.73,212.85 L161.03,212.82 L161.32,212.8 L161.62,212.77 L161.92,212.75 L162.21,212.73 L162.51,212.7 L162.81,212.68 L163.1,212.66 L163.4,212.64 L163.7,212.62 L163.99,212.6 L164.29,212.58 L164.59,212.56 L164.59,210.17 L164.59,211.93 L164.87,212.74 L165.15,213.48 L165.44,214.17 L165.72,214.8 L166,215.38 L166.29,215.91 L166.57,216.4 L166.85,216.85 L167.13,217.27 L167.42,217.65 L167.7,218 L167.98,218.32 L168.27,218.62 L168.55,218.89 L168.83,219.14 L169.12,219.37 L169.4,219.59 L169.68,219.78 L169.97,219.96 L170.25,220.13 L170.53,220.28 L170.82,220.42 L171.1,220.55 L171.38,220.67 L171.67,220.78 L171.95,220.88 L172.23,220.97 L172.52,221.05 L172.8,221.13 L173.08,221.2 L173.37,221.27 L173.65,221.33 L173.93,221.39 L174.22,221.44 L174.5,221.48 L174.78,221.53 L175.06,221.57 L175.35,221.6 L175.63,221.64 L175.91,221.67 L176.2,221.7 L176.48,221.72 L176.76,221.75 L177.05,221.77 L177.33,221.79 L177.61,221.81 L177.9,221.83 L178.18,221.84 L178.46,221.86 L178.75,221.87 L179.03,221.88 L179.31,221.9 L179.6,221.91 L179.88,221.92 L180.16,221.92 L180.45,221.93 L180.73,221.94 L181.01,221.95 L181.3,221.95 L181.58,221.96 L181.86,221.97 L182.14,221.97 L182.43,221.97 L182.71,221.98 L182.99,221.98 L183.28,221.99 L183.56,221.99 L183.84,221.99 L184.13,222 L184.41,222 L184.69,222 L184.98,222 L185.26,222 L185.54,222.01 L185.83,222.01 L186.11,222.01 L186.39,222.01 L186.68,222.01 L186.96,222.01 L187.24,222.01 L187.53,222.02 L187.81,222.02 L188.09,222.02 L188.38,222.02 L188.66,222.02 L188.94,222.02 L189.22,222.02 L189.51,222.02 L189.79,222.02 L190.07,222.02 L190.36,222.02 L190.64,222.02 L190.92,222.02 L191.21,222.02 L191.49,222.02 L191.77,222.02 L192.06,222.02 L192.34,222.02 L192.62,222.02 L192.91,222.02 L193.19,222.02 L193.47,222.02 L193.76,222.03 L194.04,222.03 L194.32,222.03 L194.61,222.03 L194.89,222.03 L195.17,222.03 L195.46,222.03 L195.74,222.03 L196.02,222.03 L196.31,222.03 L196.59,222.03 L196.87,222.03 L197.15,222.03 L197.44,222.03 L197.72,222.03 L198,222.03 L198.29,222.03 L198.57,222.03 L198.85,222.03 L199.14,222.03 L199.42,222.03 L199.7,222.03 L199.99,222.03 L200.27,222.03 L200.55,222.03 L200.84,222.03 L201.12,222.03 L201.4,222.03 L201.69,222.03 L201.97,222.03 L202.25,222.03 L202.54,222.03 L202.82,222.03 L203.1,222.03 L203.39,222.03 L203.67,222.03 L203.95,222.03 L204.23,222.03 L204.52,222.03 L204.8,222.03 L205.08,222.03 L205.37,222.03 L205.65,222.03 L205.93,222.03 L206.22,222.03 L206.5,222.03 L206.78,222.03 L207.07,222.03 L207.35,222.03 L207.63,222.03 L207.92,222.03 L208.2,222.03 L208.48,222.03 L208.77,222.03 L209.05,222.03 L209.33,222.03 L209.62,222.03 L209.9,222.03" stroke="#b99be0"/>
</g>
<rect x="124.2" y="159.5" width="88.6" height="94.6" fill="none" stroke="#111" stroke-width="1.3"/>
<line x1="124.2" y1="172.42" x2="126.4" y2="172.42" stroke="#111" stroke-width="1.1"/>
<text x="122.6" y="176.3" font-size="10.2" text-anchor="end" >0.06</text>
<line x1="124.2" y1="189.98" x2="126.4" y2="189.98" stroke="#111" stroke-width="1.1"/>
<text x="122.6" y="193.86" font-size="10.2" text-anchor="end" >0.04</text>
<line x1="124.2" y1="207.54" x2="126.4" y2="207.54" stroke="#111" stroke-width="1.1"/>
<text x="122.6" y="211.42" font-size="10.2" text-anchor="end" >0.02</text>
<line x1="124.2" y1="225.1" x2="126.4" y2="225.1" stroke="#111" stroke-width="1.1"/>
<text x="122.6" y="228.98" font-size="10.2" text-anchor="end" >0.00</text>
<line x1="124.2" y1="242.66" x2="126.4" y2="242.66" stroke="#111" stroke-width="1.1"/>
<text x="122.6" y="246.54" font-size="10.2" text-anchor="end" >-0.02</text>
<line x1="128.2" y1="254.1" x2="128.2" y2="251.9" stroke="#111" stroke-width="1.1"/>
<text x="128.2" y="264.1" font-size="10.2" text-anchor="middle" >0</text>
<line x1="150.8" y1="254.1" x2="150.8" y2="251.9" stroke="#111" stroke-width="1.1"/>
<text x="150.8" y="264.1" font-size="10.2" text-anchor="middle" >2</text>
<line x1="173.4" y1="254.1" x2="173.4" y2="251.9" stroke="#111" stroke-width="1.1"/>
<text x="173.4" y="264.1" font-size="10.2" text-anchor="middle" >4</text>
<line x1="196" y1="254.1" x2="196" y2="251.9" stroke="#111" stroke-width="1.1"/>
<text x="196" y="264.1" font-size="10.2" text-anchor="middle" >6</text>
<text x="168.6" y="277.5" font-size="10.2" text-anchor="middle" >Time&#160;&#160;[s]</text>
<text transform="translate(96.8,206.8) rotate(-90)" font-size="10.0" text-anchor="middle">I<tspan font-size="7.8" dy="1.3">ch</tspan><tspan dy="-1.3"> - </tspan><tspan font-style="italic">I</tspan><tspan font-size="7.8" dy="1.3" font-style="italic">0</tspan><tspan dy="-1.3">&#160; [mA]</tspan></text>
<rect x="169.2" y="161" width="42.4" height="42.1" rx="1.5" fill="#fff" fill-opacity="0.9" stroke="#e2e2e2" stroke-width="0.8"/>
<line x1="171.8" y1="164.9" x2="180.2" y2="164.9" stroke="#5b9ad2" stroke-width="1.4"/>
<text x="183.8" y="167.64" font-size="7.6" text-anchor="start" >0 v/v%</text>
<line x1="171.8" y1="173.5" x2="180.2" y2="173.5" stroke="#f9a24c" stroke-width="1.4"/>
<text x="183.8" y="176.24" font-size="7.6" text-anchor="start" >25 v/v%</text>
<line x1="171.8" y1="182.1" x2="180.2" y2="182.1" stroke="#62b462" stroke-width="1.4"/>
<text x="183.8" y="184.84" font-size="7.6" text-anchor="start" >50 v/v%</text>
<line x1="171.8" y1="190.7" x2="180.2" y2="190.7" stroke="#e04a4a" stroke-width="1.4"/>
<text x="183.8" y="193.44" font-size="7.6" text-anchor="start" >75 v/v%</text>
<line x1="171.8" y1="199.3" x2="180.2" y2="199.3" stroke="#b99be0" stroke-width="1.4"/>
<text x="183.8" y="202.04" font-size="7.6" text-anchor="start" >98 v/v%</text>
<text x="221.2" y="12.2" font-size="12.3" text-anchor="start" >(II)</text>
<clipPath id="cII1"><rect x="259.9" y="15.6" width="89.4" height="94.1"/></clipPath>
<g clip-path="url(#cII1)" fill="none" stroke-width="1.25" stroke-linejoin="round">
<path d="M265.46,105.17 L265.63,98.43 L265.81,92.45 L265.98,87.17 L266.16,82.51 L266.33,78.4 L266.5,74.8 L266.68,71.62 L266.85,68.84 L267.03,66.38 L267.2,64.23 L267.37,62.33 L267.55,60.66 L267.72,59.18 L267.9,57.88 L268.07,56.72 L268.24,55.7 L268.42,54.79 L268.59,53.99 L268.77,53.27 L268.94,52.62 L269.11,52.04 L269.29,51.52 L269.46,51.05 L269.64,50.63 L269.81,50.24 L269.98,49.89 L270.16,49.56 L270.33,49.27 L270.51,48.99 L270.68,48.74 L270.85,48.5 L271.03,48.28 L271.2,48.08 L271.38,47.88 L271.55,47.7 L271.72,47.53 L271.9,47.37 L272.07,47.21 L272.25,47.06 L272.42,46.92 L272.59,46.78 L272.77,46.65 L272.94,46.52 L273.12,46.4 L273.29,46.28 L273.46,46.16 L273.64,46.05 L273.81,45.94 L273.99,45.84 L274.16,45.73 L274.33,45.63 L274.51,45.53 L274.68,45.43 L274.86,45.34 L275.03,45.25 L275.2,45.16 L275.38,45.07 L275.55,44.98 L275.73,44.89 L275.9,44.81 L276.07,44.72 L276.25,44.64 L276.42,44.56 L276.6,44.48 L276.77,44.4 L276.94,44.33 L277.12,44.25 L277.29,44.18 L277.47,44.1 L277.64,44.03 L277.81,43.96 L277.99,43.89 L278.16,43.82 L278.34,43.75 L278.51,43.68 L278.68,43.61 L278.86,43.54 L279.03,43.48 L279.21,43.41 L279.38,43.35 L279.55,43.29 L279.73,43.22 L279.9,43.16 L280.08,43.1 L280.25,43.04 L280.42,42.98 L280.6,42.92 L280.77,42.86 L280.95,42.8 L281.12,42.75 L281.29,42.69 L281.47,42.63 L281.64,42.58 L281.82,42.52 L281.99,42.47 L282.16,42.41 L282.34,42.36 L282.51,42.31 L282.69,42.25 L282.86,42.2 L283.03,42.15 L283.21,42.1 L283.38,42.05 L283.56,42 L283.73,41.95 L283.9,41.9 L284.08,41.85 L284.25,41.8 L284.43,41.75 L284.6,41.71 L284.77,41.66 L284.95,41.61 L285.12,41.56 L285.3,41.52 L285.47,41.47 L285.64,41.43 L285.82,41.38 L285.99,41.34 L286.17,41.29 L286.34,41.25 L286.51,41.21 L286.69,41.16 L286.86,41.12 L287.04,41.08 L287.21,41.04 L287.38,40.99 L287.56,40.95 L287.73,40.91 L287.91,40.87 L288.08,40.83 L288.25,40.79 L288.43,40.75 L288.6,40.71 L288.78,40.67 L288.95,40.63 L289.12,40.59 L289.3,40.55 L289.47,40.52 L289.65,40.48 L289.82,40.44 L289.99,40.4 L290.17,40.36 L290.34,40.33 L290.52,40.29 L290.69,40.25 L290.86,40.22 L291.04,40.18 L291.21,40.15 L291.39,40.11 L291.56,40.08 L291.73,40.04 L291.91,40 L292.08,39.97 L292.26,39.94 L292.43,39.9 L292.6,39.87 L292.78,39.83 L292.95,39.8 L293.13,39.77 L293.3,39.73 L293.47,39.7 L293.65,39.67 L293.82,39.63 L294,39.6 L294.17,39.57 L294.34,39.54 L294.52,39.51 L294.69,39.47 L294.87,39.44 L295.04,39.41 L295.21,39.38 L295.39,39.35 L295.56,39.32 L295.74,39.29 L295.91,39.26 L296.08,39.23 L296.26,39.2 L296.43,39.17 L296.61,39.14 L296.78,39.11 L296.95,39.08 L297.13,39.05 L297.3,39.02 L297.48,38.99 L297.65,38.96 L297.82,38.93 L298,38.9 L298.17,38.87 L298.35,38.85 L298.52,38.82 L298.69,38.79 L298.87,38.76 L299.04,38.73 L299.22,38.71 L299.39,38.68 L299.56,38.65 L299.74,38.62 L299.91,38.6 L300.09,38.57 L300.26,38.54 L300.26,19.42 L300.26,47.42 L300.54,50.44 L300.82,53.06 L301.1,55.34 L301.38,57.32 L301.66,59.06 L301.94,60.59 L302.22,61.93 L302.5,63.11 L302.78,64.16 L303.06,65.1 L303.34,65.93 L303.62,66.68 L303.9,67.35 L304.18,67.96 L304.46,68.51 L304.74,69.02 L305.02,69.48 L305.3,69.91 L305.58,70.3 L305.86,70.67 L306.14,71.01 L306.42,71.32 L306.7,71.62 L306.98,71.9 L307.26,72.17 L307.54,72.42 L307.82,72.66 L308.1,72.89 L308.38,73.1 L308.66,73.31 L308.94,73.51 L309.22,73.7 L309.5,73.88 L309.77,74.06 L310.05,74.23 L310.33,74.39 L310.61,74.55 L310.89,74.7 L311.17,74.85 L311.45,74.99 L311.73,75.13 L312.01,75.26 L312.29,75.39 L312.57,75.52 L312.85,75.64 L313.13,75.76 L313.41,75.87 L313.69,75.98 L313.97,76.09 L314.25,76.2 L314.53,76.3 L314.81,76.4 L315.09,76.49 L315.37,76.58 L315.65,76.67 L315.93,76.76 L316.21,76.85 L316.49,76.93 L316.77,77.01 L317.05,77.09 L317.33,77.17 L317.61,77.24 L317.89,77.31 L318.17,77.38 L318.45,77.45 L318.73,77.51 L319.01,77.58 L319.29,77.64 L319.57,77.7 L319.85,77.76 L320.13,77.82 L320.41,77.87 L320.69,77.93 L320.97,77.98 L321.25,78.03 L321.53,78.08 L321.81,78.13 L322.09,78.17 L322.37,78.22 L322.65,78.26 L322.93,78.31 L323.21,78.35 L323.49,78.39 L323.77,78.43 L324.05,78.47 L324.33,78.5 L324.61,78.54 L324.89,78.58 L325.17,78.61 L325.45,78.64 L325.73,78.68 L326.01,78.71 L326.29,78.74 L326.57,78.77 L326.85,78.8 L327.13,78.82 L327.41,78.85 L327.69,78.88 L327.97,78.9 L328.25,78.93 L328.52,78.95 L328.8,78.98 L329.08,79 L329.36,79.02 L329.64,79.04 L329.92,79.07 L330.2,79.09 L330.48,79.11 L330.76,79.13 L331.04,79.14 L331.32,79.16 L331.6,79.18 L331.88,79.2 L332.16,79.21 L332.44,79.23 L332.72,79.25 L333,79.26 L333.28,79.28 L333.56,79.29 L333.84,79.31 L334.12,79.32 L334.4,79.33 L334.68,79.35 L334.96,79.36 L335.24,79.37 L335.52,79.38 L335.8,79.4 L336.08,79.41 L336.36,79.42 L336.64,79.43 L336.92,79.44 L337.2,79.45 L337.48,79.46 L337.76,79.47 L338.04,79.48 L338.32,79.49 L338.6,79.5 L338.88,79.5 L339.16,79.51 L339.44,79.52 L339.72,79.53 L340,79.54 L340.28,79.54 L340.56,79.55 L340.84,79.56 L341.12,79.56 L341.4,79.57 L341.68,79.58 L341.96,79.58 L342.24,79.59 L342.52,79.6 L342.8,79.6 L343.08,79.61 L343.36,79.61 L343.64,79.62 L343.92,79.62 L344.2,79.63 L344.48,79.63 L344.76,79.64 L345.04,79.64" stroke="#5b9ad2"/>
<path d="M265.46,99.92 L265.63,94.48 L265.81,89.56 L265.98,85.15 L266.16,81.19 L266.33,77.66 L266.5,74.5 L266.68,71.68 L266.85,69.17 L267.03,66.93 L267.2,64.93 L267.37,63.15 L267.55,61.55 L267.72,60.13 L267.9,58.86 L268.07,57.72 L268.24,56.7 L268.42,55.78 L268.59,54.96 L268.77,54.22 L268.94,53.55 L269.11,52.94 L269.29,52.4 L269.46,51.9 L269.64,51.44 L269.81,51.03 L269.98,50.65 L270.16,50.3 L270.33,49.98 L270.51,49.68 L270.68,49.4 L270.85,49.15 L271.03,48.91 L271.2,48.68 L271.38,48.47 L271.55,48.28 L271.72,48.09 L271.9,47.91 L272.07,47.75 L272.25,47.59 L272.42,47.44 L272.59,47.29 L272.77,47.15 L272.94,47.02 L273.12,46.89 L273.29,46.76 L273.46,46.64 L273.64,46.53 L273.81,46.41 L273.99,46.3 L274.16,46.2 L274.33,46.09 L274.51,45.99 L274.68,45.89 L274.86,45.79 L275.03,45.7 L275.2,45.61 L275.38,45.52 L275.55,45.43 L275.73,45.34 L275.9,45.25 L276.07,45.17 L276.25,45.09 L276.42,45 L276.6,44.92 L276.77,44.85 L276.94,44.77 L277.12,44.69 L277.29,44.62 L277.47,44.54 L277.64,44.47 L277.81,44.4 L277.99,44.33 L278.16,44.25 L278.34,44.19 L278.51,44.12 L278.68,44.05 L278.86,43.98 L279.03,43.92 L279.21,43.85 L279.38,43.79 L279.55,43.72 L279.73,43.66 L279.9,43.6 L280.08,43.54 L280.25,43.48 L280.42,43.42 L280.6,43.36 L280.77,43.3 L280.95,43.24 L281.12,43.18 L281.29,43.13 L281.47,43.07 L281.64,43.01 L281.82,42.96 L281.99,42.9 L282.16,42.85 L282.34,42.8 L282.51,42.74 L282.69,42.69 L282.86,42.64 L283.03,42.59 L283.21,42.54 L283.38,42.49 L283.56,42.43 L283.73,42.39 L283.9,42.34 L284.08,42.29 L284.25,42.24 L284.43,42.19 L284.6,42.14 L284.77,42.1 L284.95,42.05 L285.12,42 L285.3,41.96 L285.47,41.91 L285.64,41.87 L285.82,41.82 L285.99,41.78 L286.17,41.73 L286.34,41.69 L286.51,41.64 L286.69,41.6 L286.86,41.56 L287.04,41.52 L287.21,41.47 L287.38,41.43 L287.56,41.39 L287.73,41.35 L287.91,41.31 L288.08,41.27 L288.25,41.23 L288.43,41.19 L288.6,41.15 L288.78,41.11 L288.95,41.07 L289.12,41.03 L289.3,40.99 L289.47,40.95 L289.65,40.92 L289.82,40.88 L289.99,40.84 L290.17,40.8 L290.34,40.77 L290.52,40.73 L290.69,40.69 L290.86,40.66 L291.04,40.62 L291.21,40.58 L291.39,40.55 L291.56,40.51 L291.73,40.48 L291.91,40.44 L292.08,40.41 L292.26,40.37 L292.43,40.34 L292.6,40.3 L292.78,40.27 L292.95,40.24 L293.13,40.2 L293.3,40.17 L293.47,40.14 L293.65,40.1 L293.82,40.07 L294,40.04 L294.17,40.01 L294.34,39.97 L294.52,39.94 L294.69,39.91 L294.87,39.88 L295.04,39.85 L295.21,39.82 L295.39,39.79 L295.56,39.76 L295.74,39.72 L295.91,39.69 L296.08,39.66 L296.26,39.63 L296.43,39.6 L296.61,39.57 L296.78,39.54 L296.95,39.51 L297.13,39.48 L297.3,39.46 L297.48,39.43 L297.65,39.4 L297.82,39.37 L298,39.34 L298.17,39.31 L298.35,39.28 L298.52,39.26 L298.69,39.23 L298.87,39.2 L299.04,39.17 L299.22,39.14 L299.39,39.12 L299.56,39.09 L299.74,39.06 L299.91,39.03 L300.09,39.01 L300.26,38.98 L300.26,22.49 L300.26,48.12 L300.54,50.79 L300.82,53.05 L301.1,54.96 L301.38,56.58 L301.66,57.98 L301.94,59.19 L302.22,60.24 L302.5,61.15 L302.78,61.97 L303.06,62.69 L303.34,63.33 L303.62,63.92 L303.9,64.45 L304.18,64.94 L304.46,65.39 L304.74,65.81 L305.02,66.2 L305.3,66.57 L305.58,66.92 L305.86,67.25 L306.14,67.56 L306.42,67.87 L306.7,68.16 L306.98,68.44 L307.26,68.71 L307.54,68.97 L307.82,69.22 L308.1,69.46 L308.38,69.7 L308.66,69.93 L308.94,70.16 L309.22,70.38 L309.5,70.59 L309.77,70.8 L310.05,71 L310.33,71.2 L310.61,71.39 L310.89,71.58 L311.17,71.76 L311.45,71.94 L311.73,72.12 L312.01,72.29 L312.29,72.46 L312.57,72.62 L312.85,72.78 L313.13,72.93 L313.41,73.09 L313.69,73.23 L313.97,73.38 L314.25,73.52 L314.53,73.66 L314.81,73.8 L315.09,73.93 L315.37,74.06 L315.65,74.18 L315.93,74.31 L316.21,74.43 L316.49,74.55 L316.77,74.66 L317.05,74.78 L317.33,74.89 L317.61,74.99 L317.89,75.1 L318.17,75.2 L318.45,75.3 L318.73,75.4 L319.01,75.5 L319.29,75.59 L319.57,75.68 L319.85,75.77 L320.13,75.86 L320.41,75.94 L320.69,76.03 L320.97,76.11 L321.25,76.19 L321.53,76.27 L321.81,76.34 L322.09,76.42 L322.37,76.49 L322.65,76.56 L322.93,76.63 L323.21,76.7 L323.49,76.77 L323.77,76.83 L324.05,76.89 L324.33,76.96 L324.61,77.02 L324.89,77.08 L325.17,77.13 L325.45,77.19 L325.73,77.25 L326.01,77.3 L326.29,77.35 L326.57,77.4 L326.85,77.45 L327.13,77.5 L327.41,77.55 L327.69,77.6 L327.97,77.65 L328.25,77.69 L328.52,77.73 L328.8,77.78 L329.08,77.82 L329.36,77.86 L329.64,77.9 L329.92,77.94 L330.2,77.98 L330.48,78.02 L330.76,78.05 L331.04,78.09 L331.32,78.12 L331.6,78.16 L331.88,78.19 L332.16,78.22 L332.44,78.25 L332.72,78.29 L333,78.32 L333.28,78.35 L333.56,78.37 L333.84,78.4 L334.12,78.43 L334.4,78.46 L334.68,78.48 L334.96,78.51 L335.24,78.54 L335.52,78.56 L335.8,78.58 L336.08,78.61 L336.36,78.63 L336.64,78.65 L336.92,78.68 L337.2,78.7 L337.48,78.72 L337.76,78.74 L338.04,78.76 L338.32,78.78 L338.6,78.8 L338.88,78.82 L339.16,78.84 L339.44,78.85 L339.72,78.87 L340,78.89 L340.28,78.9 L340.56,78.92 L340.84,78.94 L341.12,78.95 L341.4,78.97 L341.68,78.98 L341.96,79 L342.24,79.01 L342.52,79.03 L342.8,79.04 L343.08,79.05 L343.36,79.07 L343.64,79.08 L343.92,79.09 L344.2,79.1 L344.48,79.11 L344.76,79.13 L345.04,79.14" stroke="#f9a24c"/>
</g>
<rect x="259.9" y="15.6" width="89.4" height="94.1" fill="none" stroke="#111" stroke-width="1.3"/>
<line x1="259.9" y1="16.8" x2="262.1" y2="16.8" stroke="#111" stroke-width="1.1"/>
<text x="258.3" y="20.68" font-size="10.2" text-anchor="end" >0.8</text>
<line x1="259.9" y1="34.3" x2="262.1" y2="34.3" stroke="#111" stroke-width="1.1"/>
<text x="258.3" y="38.18" font-size="10.2" text-anchor="end" >0.6</text>
<line x1="259.9" y1="51.8" x2="262.1" y2="51.8" stroke="#111" stroke-width="1.1"/>
<text x="258.3" y="55.68" font-size="10.2" text-anchor="end" >0.4</text>
<line x1="259.9" y1="69.3" x2="262.1" y2="69.3" stroke="#111" stroke-width="1.1"/>
<text x="258.3" y="73.18" font-size="10.2" text-anchor="end" >0.2</text>
<line x1="259.9" y1="86.8" x2="262.1" y2="86.8" stroke="#111" stroke-width="1.1"/>
<text x="258.3" y="90.68" font-size="10.2" text-anchor="end" >0.0</text>
<line x1="259.9" y1="104.3" x2="262.1" y2="104.3" stroke="#111" stroke-width="1.1"/>
<text x="258.3" y="108.18" font-size="10.2" text-anchor="end" >-0.2</text>
<line x1="264.3" y1="109.7" x2="264.3" y2="107.5" stroke="#111" stroke-width="1.1"/>
<text x="264.3" y="119.7" font-size="10.2" text-anchor="middle" >0</text>
<line x1="287.5" y1="109.7" x2="287.5" y2="107.5" stroke="#111" stroke-width="1.1"/>
<text x="287.5" y="119.7" font-size="10.2" text-anchor="middle" >2</text>
<line x1="310.7" y1="109.7" x2="310.7" y2="107.5" stroke="#111" stroke-width="1.1"/>
<text x="310.7" y="119.7" font-size="10.2" text-anchor="middle" >4</text>
<line x1="333.9" y1="109.7" x2="333.9" y2="107.5" stroke="#111" stroke-width="1.1"/>
<text x="333.9" y="119.7" font-size="10.2" text-anchor="middle" >6</text>
<text x="305.3" y="133.1" font-size="10.2" text-anchor="middle" >Time&#160;&#160;[s]</text>
<text transform="translate(233.2,62.65) rotate(-90)" font-size="10.0" text-anchor="middle">I<tspan font-size="7.8" dy="1.3">ch</tspan><tspan dy="-1.3"> - </tspan>I<tspan font-size="7.8" dy="1.3">0</tspan><tspan dy="-1.3">&#160; [mA]</tspan></text>
<rect x="271.3" y="88.5" width="75.2" height="17.3" rx="1.5" fill="#fff" fill-opacity="0.9" stroke="#e2e2e2" stroke-width="0.8"/>
<line x1="273.3" y1="92.8" x2="281.9" y2="92.8" stroke="#5b9ad2" stroke-width="1.4"/>
<text x="285.8" y="95.54" font-size="7.6" text-anchor="start" >NaCl</text>
<line x1="273.3" y1="100.3" x2="281.9" y2="100.3" stroke="#f9a24c" stroke-width="1.4"/>
<text x="285.8" y="103.04" font-size="7.6" text-anchor="start" >NaCl agarose gel</text>
<text x="221.2" y="156.5" font-size="12.3" text-anchor="start" >(II)</text>
<clipPath id="cII2"><rect x="259.9" y="159.9" width="89.4" height="94.1"/></clipPath>
<g clip-path="url(#cII2)" fill="none" stroke-width="1.25" stroke-linejoin="round">
<path d="M265.69,250.94 L265.86,240.09 L266.04,231.57 L266.21,224.89 L266.38,219.65 L266.56,215.54 L266.73,212.31 L266.9,209.77 L267.07,207.77 L267.25,206.2 L267.42,204.96 L267.59,203.98 L267.77,203.2 L267.94,202.58 L268.11,202.09 L268.28,201.7 L268.46,201.38 L268.63,201.13 L268.8,200.92 L268.98,200.74 L269.15,200.6 L269.32,200.48 L269.49,200.38 L269.67,200.3 L269.84,200.22 L270.01,200.16 L270.19,200.1 L270.36,200.05 L270.53,200 L270.7,199.96 L270.88,199.92 L271.05,199.88 L271.22,199.84 L271.4,199.81 L271.57,199.78 L271.74,199.75 L271.91,199.72 L272.09,199.69 L272.26,199.66 L272.43,199.64 L272.61,199.61 L272.78,199.59 L272.95,199.56 L273.12,199.54 L273.3,199.52 L273.47,199.49 L273.64,199.47 L273.82,199.45 L273.99,199.43 L274.16,199.41 L274.33,199.38 L274.51,199.36 L274.68,199.34 L274.85,199.33 L275.03,199.31 L275.2,199.29 L275.37,199.27 L275.54,199.25 L275.72,199.23 L275.89,199.21 L276.06,199.2 L276.24,199.18 L276.41,199.16 L276.58,199.14 L276.75,199.13 L276.93,199.11 L277.1,199.1 L277.27,199.08 L277.45,199.06 L277.62,199.05 L277.79,199.03 L277.96,199.02 L278.14,199 L278.31,198.99 L278.48,198.97 L278.66,198.96 L278.83,198.95 L279,198.93 L279.17,198.92 L279.35,198.9 L279.52,198.89 L279.69,198.88 L279.86,198.86 L280.04,198.85 L280.21,198.84 L280.38,198.82 L280.56,198.81 L280.73,198.8 L280.9,198.79 L281.07,198.77 L281.25,198.76 L281.42,198.75 L281.59,198.74 L281.77,198.73 L281.94,198.71 L282.11,198.7 L282.28,198.69 L282.46,198.68 L282.63,198.67 L282.8,198.66 L282.98,198.65 L283.15,198.64 L283.32,198.62 L283.49,198.61 L283.67,198.6 L283.84,198.59 L284.01,198.58 L284.19,198.57 L284.36,198.56 L284.53,198.55 L284.7,198.54 L284.88,198.53 L285.05,198.52 L285.22,198.51 L285.4,198.5 L285.57,198.49 L285.74,198.48 L285.91,198.47 L286.09,198.46 L286.26,198.45 L286.43,198.44 L286.61,198.44 L286.78,198.43 L286.95,198.42 L287.12,198.41 L287.3,198.4 L287.47,198.39 L287.64,198.38 L287.82,198.37 L287.99,198.36 L288.16,198.36 L288.33,198.35 L288.51,198.34 L288.68,198.33 L288.85,198.32 L289.03,198.31 L289.2,198.31 L289.37,198.3 L289.54,198.29 L289.72,198.28 L289.89,198.27 L290.06,198.26 L290.24,198.26 L290.41,198.25 L290.58,198.24 L290.75,198.23 L290.93,198.23 L291.1,198.22 L291.27,198.21 L291.45,198.2 L291.62,198.19 L291.79,198.19 L291.96,198.18 L292.14,198.17 L292.31,198.17 L292.48,198.16 L292.66,198.15 L292.83,198.14 L293,198.14 L293.17,198.13 L293.35,198.12 L293.52,198.11 L293.69,198.11 L293.86,198.1 L294.04,198.09 L294.21,198.09 L294.38,198.08 L294.56,198.07 L294.73,198.07 L294.9,198.06 L295.07,198.05 L295.25,198.05 L295.42,198.04 L295.59,198.03 L295.77,198.03 L295.94,198.02 L296.11,198.01 L296.28,198.01 L296.46,198 L296.63,197.99 L296.8,197.99 L296.98,197.98 L297.15,197.98 L297.32,197.97 L297.49,197.96 L297.67,197.96 L297.84,197.95 L298.01,197.95 L298.19,197.94 L298.36,197.93 L298.53,197.93 L298.7,197.92 L298.88,197.91 L299.05,197.91 L299.22,197.9 L299.4,197.9 L299.57,197.89 L299.74,197.89 L299.91,197.88 L300.09,197.87 L300.26,197.87 L300.26,163.82 L300.26,200.45 L300.54,203.86 L300.82,206.18 L301.1,207.78 L301.38,208.88 L301.66,209.65 L301.94,210.2 L302.22,210.61 L302.5,210.91 L302.78,211.14 L303.06,211.33 L303.34,211.48 L303.62,211.61 L303.9,211.73 L304.18,211.83 L304.46,211.92 L304.74,212.01 L305.02,212.1 L305.3,212.17 L305.58,212.25 L305.86,212.32 L306.14,212.39 L306.42,212.45 L306.7,212.52 L306.98,212.58 L307.26,212.64 L307.54,212.69 L307.82,212.75 L308.1,212.8 L308.38,212.85 L308.66,212.9 L308.94,212.95 L309.22,213 L309.5,213.04 L309.77,213.08 L310.05,213.12 L310.33,213.16 L310.61,213.2 L310.89,213.24 L311.17,213.28 L311.45,213.31 L311.73,213.35 L312.01,213.38 L312.29,213.41 L312.57,213.44 L312.85,213.47 L313.13,213.5 L313.41,213.53 L313.69,213.55 L313.97,213.58 L314.25,213.6 L314.53,213.63 L314.81,213.65 L315.09,213.67 L315.37,213.69 L315.65,213.72 L315.93,213.74 L316.21,213.75 L316.49,213.77 L316.77,213.79 L317.05,213.81 L317.33,213.83 L317.61,213.84 L317.89,213.86 L318.17,213.87 L318.45,213.89 L318.73,213.9 L319.01,213.92 L319.29,213.93 L319.57,213.94 L319.85,213.96 L320.13,213.97 L320.41,213.98 L320.69,213.99 L320.97,214 L321.25,214.01 L321.53,214.02 L321.81,214.03 L322.09,214.04 L322.37,214.05 L322.65,214.06 L322.93,214.07 L323.21,214.08 L323.49,214.08 L323.77,214.09 L324.05,214.1 L324.33,214.11 L324.61,214.11 L324.89,214.12 L325.17,214.13 L325.45,214.13 L325.73,214.14 L326.01,214.14 L326.29,214.15 L326.57,214.15 L326.85,214.16 L327.13,214.17 L327.41,214.17 L327.69,214.17 L327.97,214.18 L328.25,214.18 L328.52,214.19 L328.8,214.19 L329.08,214.2 L329.36,214.2 L329.64,214.2 L329.92,214.21 L330.2,214.21 L330.48,214.21 L330.76,214.22 L331.04,214.22 L331.32,214.22 L331.6,214.23 L331.88,214.23 L332.16,214.23 L332.44,214.23 L332.72,214.24 L333,214.24 L333.28,214.24 L333.56,214.24 L333.84,214.25 L334.12,214.25 L334.4,214.25 L334.68,214.25 L334.96,214.25 L335.24,214.26 L335.52,214.26 L335.8,214.26 L336.08,214.26 L336.36,214.26 L336.64,214.27 L336.92,214.27 L337.2,214.27 L337.48,214.27 L337.76,214.27 L338.04,214.27 L338.32,214.27 L338.6,214.27 L338.88,214.28 L339.16,214.28 L339.44,214.28 L339.72,214.28 L340,214.28 L340.28,214.28 L340.56,214.28 L340.84,214.28 L341.12,214.28 L341.4,214.29 L341.68,214.29 L341.96,214.29 L342.24,214.29 L342.52,214.29 L342.8,214.29 L343.08,214.29 L343.36,214.29 L343.64,214.29 L343.92,214.29 L344.2,214.29 L344.48,214.29 L344.76,214.29 L345.04,214.29" stroke="#5b9ad2"/>
<path d="M265.69,242.53 L265.86,232.04 L266.04,224.21 L266.21,218.36 L266.38,213.99 L266.56,210.73 L266.73,208.28 L266.9,206.45 L267.07,205.07 L267.25,204.04 L267.42,203.26 L267.59,202.66 L267.77,202.21 L267.94,201.87 L268.11,201.6 L268.28,201.39 L268.46,201.23 L268.63,201.09 L268.8,200.99 L268.98,200.9 L269.15,200.83 L269.32,200.77 L269.49,200.71 L269.67,200.66 L269.84,200.62 L270.01,200.58 L270.19,200.55 L270.36,200.51 L270.53,200.48 L270.7,200.45 L270.88,200.42 L271.05,200.4 L271.22,200.37 L271.4,200.34 L271.57,200.32 L271.74,200.3 L271.91,200.27 L272.09,200.25 L272.26,200.23 L272.43,200.21 L272.61,200.19 L272.78,200.17 L272.95,200.15 L273.12,200.13 L273.3,200.11 L273.47,200.09 L273.64,200.07 L273.82,200.05 L273.99,200.03 L274.16,200.02 L274.33,200 L274.51,199.98 L274.68,199.97 L274.85,199.95 L275.03,199.93 L275.2,199.92 L275.37,199.9 L275.54,199.89 L275.72,199.87 L275.89,199.86 L276.06,199.84 L276.24,199.83 L276.41,199.81 L276.58,199.8 L276.75,199.79 L276.93,199.77 L277.1,199.76 L277.27,199.75 L277.45,199.73 L277.62,199.72 L277.79,199.71 L277.96,199.69 L278.14,199.68 L278.31,199.67 L278.48,199.66 L278.66,199.65 L278.83,199.63 L279,199.62 L279.17,199.61 L279.35,199.6 L279.52,199.59 L279.69,199.58 L279.86,199.56 L280.04,199.55 L280.21,199.54 L280.38,199.53 L280.56,199.52 L280.73,199.51 L280.9,199.5 L281.07,199.49 L281.25,199.48 L281.42,199.47 L281.59,199.46 L281.77,199.45 L281.94,199.44 L282.11,199.43 L282.28,199.42 L282.46,199.41 L282.63,199.4 L282.8,199.39 L282.98,199.38 L283.15,199.38 L283.32,199.37 L283.49,199.36 L283.67,199.35 L283.84,199.34 L284.01,199.33 L284.19,199.32 L284.36,199.31 L284.53,199.31 L284.7,199.3 L284.88,199.29 L285.05,199.28 L285.22,199.27 L285.4,199.26 L285.57,199.26 L285.74,199.25 L285.91,199.24 L286.09,199.23 L286.26,199.22 L286.43,199.22 L286.61,199.21 L286.78,199.2 L286.95,199.19 L287.12,199.19 L287.3,199.18 L287.47,199.17 L287.64,199.16 L287.82,199.16 L287.99,199.15 L288.16,199.14 L288.33,199.13 L288.51,199.13 L288.68,199.12 L288.85,199.11 L289.03,199.11 L289.2,199.1 L289.37,199.09 L289.54,199.09 L289.72,199.08 L289.89,199.07 L290.06,199.07 L290.24,199.06 L290.41,199.05 L290.58,199.05 L290.75,199.04 L290.93,199.03 L291.1,199.03 L291.27,199.02 L291.45,199.01 L291.62,199.01 L291.79,199 L291.96,199 L292.14,198.99 L292.31,198.98 L292.48,198.98 L292.66,198.97 L292.83,198.97 L293,198.96 L293.17,198.95 L293.35,198.95 L293.52,198.94 L293.69,198.94 L293.86,198.93 L294.04,198.92 L294.21,198.92 L294.38,198.91 L294.56,198.91 L294.73,198.9 L294.9,198.9 L295.07,198.89 L295.25,198.88 L295.42,198.88 L295.59,198.87 L295.77,198.87 L295.94,198.86 L296.11,198.86 L296.28,198.85 L296.46,198.85 L296.63,198.84 L296.8,198.84 L296.98,198.83 L297.15,198.83 L297.32,198.82 L297.49,198.82 L297.67,198.81 L297.84,198.8 L298.01,198.8 L298.19,198.79 L298.36,198.79 L298.53,198.78 L298.7,198.78 L298.88,198.77 L299.05,198.77 L299.22,198.76 L299.4,198.76 L299.57,198.76 L299.74,198.75 L299.91,198.75 L300.09,198.74 L300.26,198.74 L300.26,167.78 L300.26,199.71 L300.54,205.41 L300.82,208.57 L301.1,210.34 L301.38,211.34 L301.66,211.93 L301.94,212.28 L302.22,212.51 L302.5,212.66 L302.78,212.78 L303.06,212.87 L303.34,212.95 L303.62,213.02 L303.9,213.09 L304.18,213.15 L304.46,213.2 L304.74,213.26 L305.02,213.31 L305.3,213.36 L305.58,213.4 L305.86,213.45 L306.14,213.49 L306.42,213.54 L306.7,213.58 L306.98,213.61 L307.26,213.65 L307.54,213.69 L307.82,213.72 L308.1,213.75 L308.38,213.79 L308.66,213.82 L308.94,213.85 L309.22,213.87 L309.5,213.9 L309.77,213.93 L310.05,213.95 L310.33,213.98 L310.61,214 L310.89,214.02 L311.17,214.04 L311.45,214.06 L311.73,214.08 L312.01,214.1 L312.29,214.12 L312.57,214.14 L312.85,214.15 L313.13,214.17 L313.41,214.18 L313.69,214.2 L313.97,214.21 L314.25,214.23 L314.53,214.24 L314.81,214.25 L315.09,214.26 L315.37,214.28 L315.65,214.29 L315.93,214.3 L316.21,214.31 L316.49,214.32 L316.77,214.33 L317.05,214.34 L317.33,214.34 L317.61,214.35 L317.89,214.36 L318.17,214.37 L318.45,214.38 L318.73,214.38 L319.01,214.39 L319.29,214.4 L319.57,214.4 L319.85,214.41 L320.13,214.42 L320.41,214.42 L320.69,214.43 L320.97,214.43 L321.25,214.44 L321.53,214.44 L321.81,214.45 L322.09,214.45 L322.37,214.45 L322.65,214.46 L322.93,214.46 L323.21,214.47 L323.49,214.47 L323.77,214.47 L324.05,214.48 L324.33,214.48 L324.61,214.48 L324.89,214.49 L325.17,214.49 L325.45,214.49 L325.73,214.49 L326.01,214.5 L326.29,214.5 L326.57,214.5 L326.85,214.5 L327.13,214.51 L327.41,214.51 L327.69,214.51 L327.97,214.51 L328.25,214.51 L328.52,214.51 L328.8,214.52 L329.08,214.52 L329.36,214.52 L329.64,214.52 L329.92,214.52 L330.2,214.52 L330.48,214.53 L330.76,214.53 L331.04,214.53 L331.32,214.53 L331.6,214.53 L331.88,214.53 L332.16,214.53 L332.44,214.53 L332.72,214.53 L333,214.54 L333.28,214.54 L333.56,214.54 L333.84,214.54 L334.12,214.54 L334.4,214.54 L334.68,214.54 L334.96,214.54 L335.24,214.54 L335.52,214.54 L335.8,214.54 L336.08,214.54 L336.36,214.54 L336.64,214.54 L336.92,214.54 L337.2,214.55 L337.48,214.55 L337.76,214.55 L338.04,214.55 L338.32,214.55 L338.6,214.55 L338.88,214.55 L339.16,214.55 L339.44,214.55 L339.72,214.55 L340,214.55 L340.28,214.55 L340.56,214.55 L340.84,214.55 L341.12,214.55 L341.4,214.55 L341.68,214.55 L341.96,214.55 L342.24,214.55 L342.52,214.55 L342.8,214.55 L343.08,214.55 L343.36,214.55 L343.64,214.55 L343.92,214.55 L344.2,214.55 L344.48,214.55 L344.76,214.55 L345.04,214.55" stroke="#f9a24c"/>
</g>
<rect x="259.9" y="159.9" width="89.4" height="94.1" fill="none" stroke="#111" stroke-width="1.3"/>
<line x1="259.9" y1="165.8" x2="262.1" y2="165.8" stroke="#111" stroke-width="1.1"/>
<text x="258.3" y="169.68" font-size="10.2" text-anchor="end" >0.10</text>
<line x1="259.9" y1="190.55" x2="262.1" y2="190.55" stroke="#111" stroke-width="1.1"/>
<text x="258.3" y="194.43" font-size="10.2" text-anchor="end" >0.05</text>
<line x1="259.9" y1="215.3" x2="262.1" y2="215.3" stroke="#111" stroke-width="1.1"/>
<text x="258.3" y="219.18" font-size="10.2" text-anchor="end" >0.00</text>
<line x1="259.9" y1="240.05" x2="262.1" y2="240.05" stroke="#111" stroke-width="1.1"/>
<text x="258.3" y="243.93" font-size="10.2" text-anchor="end" >-0.05</text>
<line x1="264.3" y1="254" x2="264.3" y2="251.8" stroke="#111" stroke-width="1.1"/>
<text x="264.3" y="264" font-size="10.2" text-anchor="middle" >0</text>
<line x1="287.5" y1="254" x2="287.5" y2="251.8" stroke="#111" stroke-width="1.1"/>
<text x="287.5" y="264" font-size="10.2" text-anchor="middle" >2</text>
<line x1="310.7" y1="254" x2="310.7" y2="251.8" stroke="#111" stroke-width="1.1"/>
<text x="310.7" y="264" font-size="10.2" text-anchor="middle" >4</text>
<line x1="333.9" y1="254" x2="333.9" y2="251.8" stroke="#111" stroke-width="1.1"/>
<text x="333.9" y="264" font-size="10.2" text-anchor="middle" >6</text>
<text x="305.3" y="277.4" font-size="10.2" text-anchor="middle" >Time&#160;&#160;[s]</text>
<text transform="translate(233.2,206.95) rotate(-90)" font-size="10.0" text-anchor="middle">I<tspan font-size="7.8" dy="1.3">ch</tspan><tspan dy="-1.3"> - </tspan>I<tspan font-size="7.8" dy="1.3">0</tspan><tspan dy="-1.3">&#160; [mA]</tspan></text>
<rect x="271.3" y="232.8" width="75.2" height="17.3" rx="1.5" fill="#fff" fill-opacity="0.9" stroke="#e2e2e2" stroke-width="0.8"/>
<line x1="273.3" y1="237.1" x2="281.9" y2="237.1" stroke="#5b9ad2" stroke-width="1.4"/>
<text x="285.8" y="239.84" font-size="7.6" text-anchor="start" >NaCl</text>
<line x1="273.3" y1="244.6" x2="281.9" y2="244.6" stroke="#f9a24c" stroke-width="1.4"/>
<text x="285.8" y="247.34" font-size="7.6" text-anchor="start" >NaCl agarose gel</text>
<text x="358.8" y="11.6" font-size="15.5" text-anchor="start" style="stroke-width:0.1px;letter-spacing:0.6px">(c)</text>
<circle cx="441.1" cy="65.9" r="13.8" fill="#e6f5fa" stroke="#bcd6ea" stroke-width="0.8"/>
<path d="M434.8,59.6 Q438.5,57.8 442,59.2 L443.6,63.2 Q440.5,64.6 438.6,65.6 Z" fill="#8aa2cf" stroke="#6a88bf" stroke-width="0.6"/>
<circle cx="448.1" cy="60.3" r="2.3" fill="#d8d0ea" stroke="#9088c0" stroke-width="0.4"/>
<circle cx="448.1" cy="60.3" r="1.5" fill="#6a4a9a"/>
<ellipse cx="447.6" cy="67" rx="2.6" ry="1.5" transform="rotate(-25 447.6 67)" fill="#9ab0d8" stroke="#6a88bf" stroke-width="0.6"/>
<ellipse cx="436.8" cy="73.9" rx="2.6" ry="2" fill="#9ab0d8" stroke="#6a88bf" stroke-width="0.6"/>
<circle cx="444.2" cy="73.9" r="2.1" fill="#e84a4a"/>
<circle cx="529.2" cy="31.3" r="14" fill="#a7b6d8" stroke="#7088c0" stroke-width="0.9"/>
<path d="M519.8,27.6 C519.6,24.6 522.5,23.6 525,24.2 C527.6,24.9 527.8,28.4 526.4,30 C524.6,31.6 520.2,31 519.8,27.6 Z" fill="#d8e0f2" stroke="#6e88c0" stroke-width="0.6"/>
<circle cx="523.5" cy="27.4" r="1.9" fill="#e04848"/>
<ellipse cx="535.9" cy="32.5" rx="3.9" ry="2.7" transform="rotate(20 535.9 32.5)" fill="#c6c6e2" stroke="#6e88c0" stroke-width="0.6"/>
<circle cx="535.9" cy="32.5" r="1.7" fill="#8450b0"/>
<ellipse cx="528.6" cy="38.8" rx="2.9" ry="1.4" transform="rotate(-28 528.6 38.8)" fill="#eef2fa" stroke="#c8d2ea" stroke-width="0.4"/>
<path d="M400.4,98.93 L441.95,94.32 L483.5,92.36 L525.05,82.8 L563.28,33.07" fill="none" stroke="#1f6fbf" stroke-width="1.35" stroke-dasharray="2.8,1.5"/>
<line x1="400.4" y1="93.4" x2="400.4" y2="105.1" stroke="#1f6fbf" stroke-width="1.15"/>
<line x1="398.2" y1="93.4" x2="402.6" y2="93.4" stroke="#1f6fbf" stroke-width="1.15"/>
<line x1="398.2" y1="105.1" x2="402.6" y2="105.1" stroke="#1f6fbf" stroke-width="1.15"/>
<circle cx="400.4" cy="98.93" r="2.45" fill="#1f6fbf"/>
<line x1="441.95" y1="83.7" x2="441.95" y2="105.1" stroke="#1f6fbf" stroke-width="1.15"/>
<line x1="439.75" y1="83.7" x2="444.15" y2="83.7" stroke="#1f6fbf" stroke-width="1.15"/>
<line x1="439.75" y1="105.1" x2="444.15" y2="105.1" stroke="#1f6fbf" stroke-width="1.15"/>
<circle cx="441.95" cy="94.32" r="2.45" fill="#1f6fbf"/>
<line x1="483.5" y1="83.1" x2="483.5" y2="102.7" stroke="#1f6fbf" stroke-width="1.15"/>
<line x1="481.3" y1="83.1" x2="485.7" y2="83.1" stroke="#1f6fbf" stroke-width="1.15"/>
<line x1="481.3" y1="102.7" x2="485.7" y2="102.7" stroke="#1f6fbf" stroke-width="1.15"/>
<circle cx="483.5" cy="92.36" r="2.45" fill="#1f6fbf"/>
<line x1="525.05" y1="71.4" x2="525.05" y2="93.9" stroke="#1f6fbf" stroke-width="1.15"/>
<line x1="522.85" y1="71.4" x2="527.25" y2="71.4" stroke="#1f6fbf" stroke-width="1.15"/>
<line x1="522.85" y1="93.9" x2="527.25" y2="93.9" stroke="#1f6fbf" stroke-width="1.15"/>
<circle cx="525.05" cy="82.8" r="2.45" fill="#1f6fbf"/>
<line x1="563.28" y1="18.4" x2="563.28" y2="47.7" stroke="#1f6fbf" stroke-width="1.15"/>
<line x1="561.08" y1="18.4" x2="565.48" y2="18.4" stroke="#1f6fbf" stroke-width="1.15"/>
<line x1="561.08" y1="47.7" x2="565.48" y2="47.7" stroke="#1f6fbf" stroke-width="1.15"/>
<circle cx="563.28" cy="33.07" r="2.45" fill="#1f6fbf"/>
<path d="M400.4,100.94 L441.95,97.9 L483.5,89.91 L525.05,82.66 L563.28,21.31" fill="none" stroke="#f97b1c" stroke-width="1.35" stroke-dasharray="2.8,1.5"/>
<line x1="400.4" y1="99.1" x2="400.4" y2="103.1" stroke="#f97b1c" stroke-width="1.15"/>
<line x1="398.2" y1="99.1" x2="402.6" y2="99.1" stroke="#f97b1c" stroke-width="1.15"/>
<line x1="398.2" y1="103.1" x2="402.6" y2="103.1" stroke="#f97b1c" stroke-width="1.15"/>
<circle cx="400.4" cy="100.94" r="2.45" fill="#f97b1c"/>
<line x1="441.95" y1="95.8" x2="441.95" y2="100.6" stroke="#f97b1c" stroke-width="1.15"/>
<line x1="439.75" y1="95.8" x2="444.15" y2="95.8" stroke="#f97b1c" stroke-width="1.15"/>
<line x1="439.75" y1="100.6" x2="444.15" y2="100.6" stroke="#f97b1c" stroke-width="1.15"/>
<circle cx="441.95" cy="97.9" r="2.45" fill="#f97b1c"/>
<line x1="483.5" y1="85.9" x2="483.5" y2="93.2" stroke="#f97b1c" stroke-width="1.15"/>
<line x1="481.3" y1="85.9" x2="485.7" y2="85.9" stroke="#f97b1c" stroke-width="1.15"/>
<line x1="481.3" y1="93.2" x2="485.7" y2="93.2" stroke="#f97b1c" stroke-width="1.15"/>
<circle cx="483.5" cy="89.91" r="2.45" fill="#f97b1c"/>
<line x1="525.05" y1="78.6" x2="525.05" y2="87.5" stroke="#f97b1c" stroke-width="1.15"/>
<line x1="522.85" y1="78.6" x2="527.25" y2="78.6" stroke="#f97b1c" stroke-width="1.15"/>
<line x1="522.85" y1="87.5" x2="527.25" y2="87.5" stroke="#f97b1c" stroke-width="1.15"/>
<circle cx="525.05" cy="82.66" r="2.45" fill="#f97b1c"/>
<line x1="563.28" y1="18.4" x2="563.28" y2="24.2" stroke="#f97b1c" stroke-width="1.15"/>
<line x1="561.08" y1="18.4" x2="565.48" y2="18.4" stroke="#f97b1c" stroke-width="1.15"/>
<line x1="561.08" y1="24.2" x2="565.48" y2="24.2" stroke="#f97b1c" stroke-width="1.15"/>
<circle cx="563.28" cy="21.31" r="2.45" fill="#f97b1c"/>
<rect x="392.8" y="14.3" width="178.8" height="94.5" fill="none" stroke="#111" stroke-width="1.3"/>
<line x1="392.8" y1="37.5" x2="395" y2="37.5" stroke="#111" stroke-width="1.1"/>
<text x="391.2" y="41.38" font-size="10.2" text-anchor="end" >1.5</text>
<line x1="392.8" y1="61" x2="395" y2="61" stroke="#111" stroke-width="1.1"/>
<text x="391.2" y="64.88" font-size="10.2" text-anchor="end" >1.0</text>
<line x1="392.8" y1="86.3" x2="395" y2="86.3" stroke="#111" stroke-width="1.1"/>
<text x="391.2" y="90.18" font-size="10.2" text-anchor="end" >0.5</text>
<line x1="400.4" y1="108.8" x2="400.4" y2="106.6" stroke="#111" stroke-width="1.1"/>
<text x="400.4" y="118.8" font-size="10.2" text-anchor="middle" >0</text>
<line x1="433.64" y1="108.8" x2="433.64" y2="106.6" stroke="#111" stroke-width="1.1"/>
<text x="433.64" y="118.8" font-size="10.2" text-anchor="middle" >20</text>
<line x1="466.88" y1="108.8" x2="466.88" y2="106.6" stroke="#111" stroke-width="1.1"/>
<text x="466.88" y="118.8" font-size="10.2" text-anchor="middle" >40</text>
<line x1="500.12" y1="108.8" x2="500.12" y2="106.6" stroke="#111" stroke-width="1.1"/>
<text x="500.12" y="118.8" font-size="10.2" text-anchor="middle" >60</text>
<line x1="533.36" y1="108.8" x2="533.36" y2="106.6" stroke="#111" stroke-width="1.1"/>
<text x="533.36" y="118.8" font-size="10.2" text-anchor="middle" >80</text>
<line x1="566.6" y1="108.8" x2="566.6" y2="106.6" stroke="#111" stroke-width="1.1"/>
<text x="566.6" y="118.8" font-size="10.2" text-anchor="middle" >100</text>
<text x="482.5" y="132.4" font-size="10.2" text-anchor="middle" >Glycerol concentration [v/v%]</text>
<text transform="translate(371,61.55) rotate(-90)" font-size="10" text-anchor="middle">Tau&#160;&#160;[s]</text>
<rect x="396.3" y="16.9" width="58.8" height="18.9" rx="1.5" fill="#fff" fill-opacity="0.9" stroke="#e2e2e2" stroke-width="0.8"/>
<line x1="399.3" y1="22.4" x2="409.7" y2="22.4" stroke="#1f6fbf" stroke-width="1.3" stroke-dasharray="2.6,1.3"/>
<line x1="404.4" y1="19.6" x2="404.4" y2="25.2" stroke="#1f6fbf" stroke-width="1.2"/>
<line x1="403" y1="19.6" x2="405.8" y2="19.6" stroke="#1f6fbf" stroke-width="1.2"/>
<line x1="403" y1="25.2" x2="405.8" y2="25.2" stroke="#1f6fbf" stroke-width="1.2"/>
<circle cx="404.4" cy="22.4" r="2.4" fill="#1f6fbf"/>
<text x="413.3" y="25.1" font-size="7.5" text-anchor="start" >spin coated</text>
<line x1="399.3" y1="30.3" x2="409.7" y2="30.3" stroke="#f97b1c" stroke-width="1.3" stroke-dasharray="2.6,1.3"/>
<line x1="404.4" y1="27.5" x2="404.4" y2="33.1" stroke="#f97b1c" stroke-width="1.2"/>
<line x1="403" y1="27.5" x2="405.8" y2="27.5" stroke="#f97b1c" stroke-width="1.2"/>
<line x1="403" y1="33.1" x2="405.8" y2="33.1" stroke="#f97b1c" stroke-width="1.2"/>
<circle cx="404.4" cy="30.3" r="2.4" fill="#f97b1c"/>
<text x="413.3" y="33" font-size="7.5" text-anchor="start" >printed</text>
<text x="358.6" y="156.8" font-size="15.5" text-anchor="start" style="stroke-width:0.1px;letter-spacing:0.6px">(d)</text>
<line x1="415" y1="221.4" x2="415" y2="228.6" stroke="#f97b1c" stroke-width="1.15"/>
<line x1="412.8" y1="221.4" x2="417.2" y2="221.4" stroke="#f97b1c" stroke-width="1.15"/>
<line x1="412.8" y1="228.6" x2="417.2" y2="228.6" stroke="#f97b1c" stroke-width="1.15"/>
<circle cx="415" cy="225.1" r="2.45" fill="#f97b1c"/>
<line x1="415" y1="230" x2="415" y2="237.1" stroke="#1f6fbf" stroke-width="1.15"/>
<line x1="412.8" y1="230" x2="417.2" y2="230" stroke="#1f6fbf" stroke-width="1.15"/>
<line x1="412.8" y1="237.1" x2="417.2" y2="237.1" stroke="#1f6fbf" stroke-width="1.15"/>
<circle cx="415" cy="233.4" r="2.45" fill="#1f6fbf"/>
<line x1="465" y1="164.2" x2="465" y2="187.8" stroke="#f97b1c" stroke-width="1.15"/>
<line x1="462.8" y1="164.2" x2="467.2" y2="164.2" stroke="#f97b1c" stroke-width="1.15"/>
<line x1="462.8" y1="187.8" x2="467.2" y2="187.8" stroke="#f97b1c" stroke-width="1.15"/>
<circle cx="465" cy="176" r="2.45" fill="#f97b1c"/>
<line x1="465" y1="248.5" x2="465" y2="255.6" stroke="#1f6fbf" stroke-width="1.15"/>
<line x1="462.8" y1="248.5" x2="467.2" y2="248.5" stroke="#1f6fbf" stroke-width="1.15"/>
<line x1="462.8" y1="255.6" x2="467.2" y2="255.6" stroke="#1f6fbf" stroke-width="1.15"/>
<circle cx="465" cy="252" r="2.45" fill="#1f6fbf"/>
<rect x="393.9" y="159.4" width="93" height="100.1" fill="none" stroke="#111" stroke-width="1.3"/>
<line x1="393.9" y1="183.45" x2="396.1" y2="183.45" stroke="#111" stroke-width="1.1"/>
<text x="392.3" y="187.33" font-size="10.2" text-anchor="end" >0.4</text>
<line x1="393.9" y1="214.3" x2="396.1" y2="214.3" stroke="#111" stroke-width="1.1"/>
<text x="392.3" y="218.18" font-size="10.2" text-anchor="end" >0.3</text>
<line x1="393.9" y1="245.15" x2="396.1" y2="245.15" stroke="#111" stroke-width="1.1"/>
<text x="392.3" y="249.03" font-size="10.2" text-anchor="end" >0.2</text>
<line x1="415" y1="259.5" x2="415" y2="257.3" stroke="#111" stroke-width="1.1"/>
<line x1="465" y1="259.5" x2="465" y2="257.3" stroke="#111" stroke-width="1.1"/>
<text x="415" y="271.2" font-size="10" text-anchor="middle" >NaCl</text>
<text x="462.4" y="269" font-size="10" text-anchor="middle" >NaCl</text>
<text x="464.9" y="276.6" font-size="10" text-anchor="middle" >agarose gel</text>
<text transform="translate(372.3,209) rotate(-90)" font-size="10" text-anchor="middle">Tau&#160;&#160;[s]</text>
<rect x="396.4" y="162.5" width="57.8" height="19.9" rx="1.5" fill="#fff" fill-opacity="0.9" stroke="#e2e2e2" stroke-width="0.8"/>
<line x1="399.5" y1="168.9" x2="409.5" y2="168.9" stroke="#1f6fbf" stroke-width="1.3" stroke-dasharray="2.6,1.3"/>
<line x1="404.2" y1="166.1" x2="404.2" y2="171.7" stroke="#1f6fbf" stroke-width="1.2"/>
<line x1="402.8" y1="166.1" x2="405.6" y2="166.1" stroke="#1f6fbf" stroke-width="1.2"/>
<line x1="402.8" y1="171.7" x2="405.6" y2="171.7" stroke="#1f6fbf" stroke-width="1.2"/>
<circle cx="404.2" cy="168.9" r="2.4" fill="#1f6fbf"/>
<text x="413.2" y="171.6" font-size="7.5" text-anchor="start" >spin coated</text>
<line x1="399.5" y1="176.4" x2="409.5" y2="176.4" stroke="#f97b1c" stroke-width="1.3" stroke-dasharray="2.6,1.3"/>
<line x1="404.2" y1="173.6" x2="404.2" y2="179.2" stroke="#f97b1c" stroke-width="1.2"/>
<line x1="402.8" y1="173.6" x2="405.6" y2="173.6" stroke="#f97b1c" stroke-width="1.2"/>
<line x1="402.8" y1="179.2" x2="405.6" y2="179.2" stroke="#f97b1c" stroke-width="1.2"/>
<circle cx="404.2" cy="176.4" r="2.4" fill="#f97b1c"/>
<text x="413.2" y="179.1" font-size="7.5" text-anchor="start" >printed</text>
<path d="M524,197 C516,190 503,189.5 499,194 C496,199 503,202.5 512,200.5 C518,199.5 522,199 524,197 Z" fill="#e0f3f9" fill-opacity="0.75" stroke="#86a0cf" stroke-width="0.95"/>
<path d="M507,196 C507,192 515,190.5 518,195 C520,198.5 511,199.5 507,196 Z" fill="#e0f3f9" fill-opacity="0.75" stroke="#86a0cf" stroke-width="0.95"/>
<path d="M516,194 C511,187 515,183.6 523,183.6 C531,183.6 535,187 532.5,194 C530,198 520,199 516,194 Z" fill="#e0f3f9" fill-opacity="0.75" stroke="#86a0cf" stroke-width="0.95"/>
<path d="M521,197 C527,191 539,192 542,199 C545,206 539,212.5 532,212.5 C526,212 521,204 521,197 Z" fill="#e0f3f9" fill-opacity="0.75" stroke="#86a0cf" stroke-width="0.95"/>
<path d="M521,200 C514,204 512,216 517,219.5 C522,222.5 530,221 530,213 C530,206 526,201 521,200 Z" fill="#e0f3f9" fill-opacity="0.75" stroke="#86a0cf" stroke-width="0.95"/>
<path d="M513,191.5 C521,194 528,199 534,212" fill="none" stroke="#86a0cf" stroke-width="0.9"/>
<circle cx="529.4" cy="202.5" r="2.2" fill="#e04848" stroke="#f0b0b0" stroke-width="0.5"/>
<circle cx="535.5" cy="207.2" r="2.2" fill="#7048a8" stroke="#c0b0e0" stroke-width="0.6"/>
</svg></body></html>
